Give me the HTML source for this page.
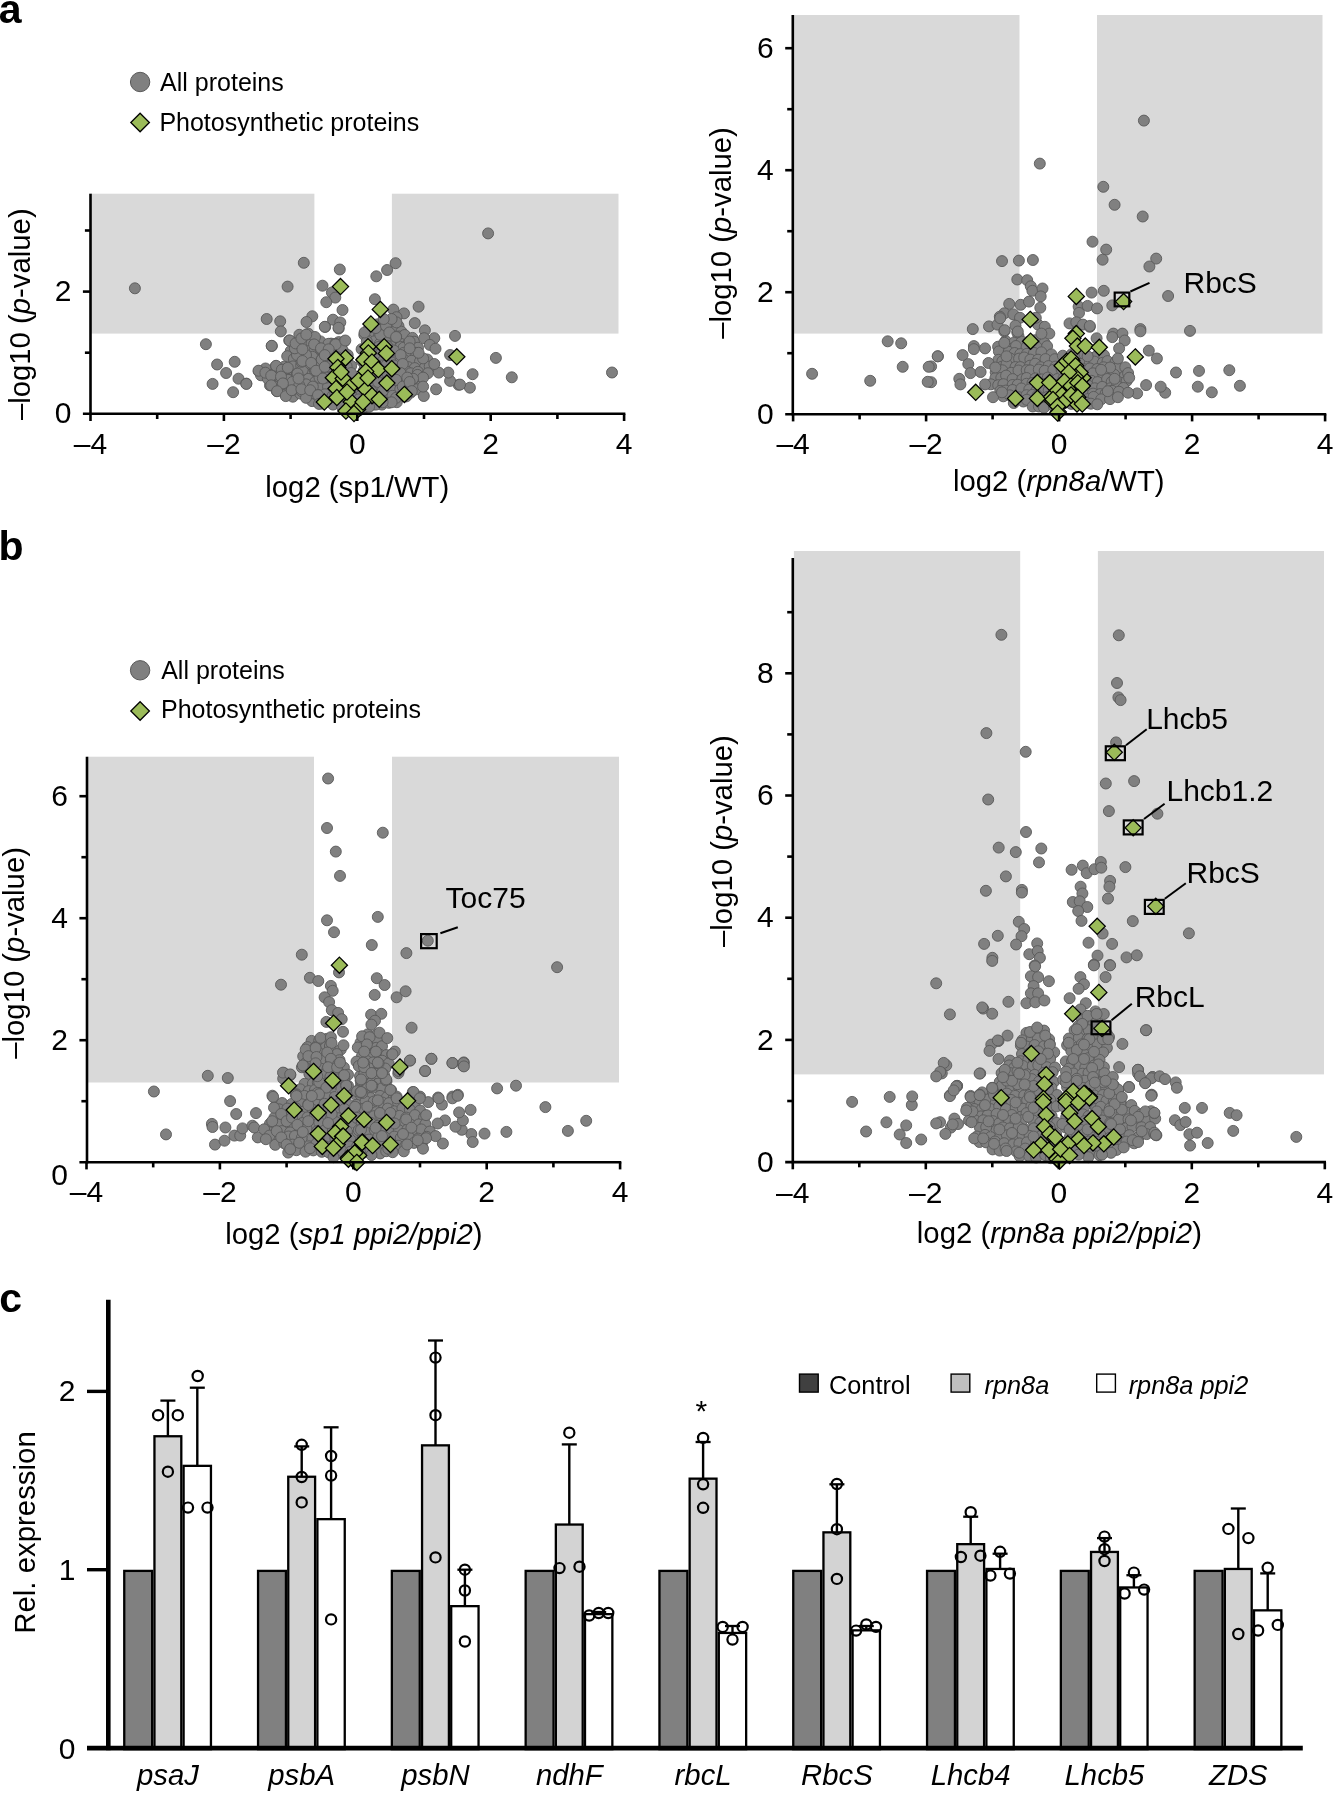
<!DOCTYPE html>
<html><head><meta charset="utf-8"><title>Figure</title>
<style>html,body{margin:0;padding:0;background:#fff;} body{width:1333px;height:1793px;overflow:hidden;font-family:"Liberation Sans", sans-serif;} svg{display:block;will-change:transform;}</style>
</head><body>
<svg width="1333" height="1793" viewBox="0 0 1333 1793" font-family='"Liberation Sans", sans-serif' fill="#000">
<rect width="1333" height="1793" fill="#fff"/>
<rect x="90.5" y="193.7" width="223.89999999999998" height="139.90000000000003" fill="#d9d9d9"/>
<rect x="391.9" y="193.7" width="226.60000000000002" height="139.90000000000003" fill="#d9d9d9"/>
<g fill="#808080" stroke="#595959" stroke-width="0.9">
<circle cx="295.5" cy="343.3" r="5.5"/>
<circle cx="303.2" cy="342.3" r="5.5"/>
<circle cx="311.6" cy="343.2" r="5.5"/>
<circle cx="320.4" cy="341.4" r="5.5"/>
<circle cx="331.1" cy="343.6" r="5.5"/>
<circle cx="338.8" cy="342.1" r="5.5"/>
<circle cx="290.7" cy="351.1" r="5.5"/>
<circle cx="301.5" cy="352.1" r="5.5"/>
<circle cx="308.5" cy="351.1" r="5.5"/>
<circle cx="315.1" cy="349.7" r="5.5"/>
<circle cx="326.7" cy="350.4" r="5.5"/>
<circle cx="332.7" cy="350.9" r="5.5"/>
<circle cx="343.3" cy="351.4" r="5.5"/>
<circle cx="287.2" cy="356.2" r="5.5"/>
<circle cx="293.9" cy="358.9" r="5.5"/>
<circle cx="306.2" cy="358.5" r="5.5"/>
<circle cx="312.3" cy="356.8" r="5.5"/>
<circle cx="321.3" cy="360.0" r="5.5"/>
<circle cx="330.8" cy="358.2" r="5.5"/>
<circle cx="339.7" cy="357.0" r="5.5"/>
<circle cx="346.8" cy="359.9" r="5.5"/>
<circle cx="284.1" cy="366.7" r="5.5"/>
<circle cx="293.0" cy="366.4" r="5.5"/>
<circle cx="301.2" cy="365.5" r="5.5"/>
<circle cx="308.7" cy="365.1" r="5.5"/>
<circle cx="315.2" cy="366.9" r="5.5"/>
<circle cx="325.8" cy="364.2" r="5.5"/>
<circle cx="334.0" cy="365.4" r="5.5"/>
<circle cx="341.9" cy="364.8" r="5.5"/>
<circle cx="351.2" cy="365.9" r="5.5"/>
<circle cx="270.7" cy="372.6" r="5.5"/>
<circle cx="276.9" cy="371.7" r="5.5"/>
<circle cx="286.0" cy="373.1" r="5.5"/>
<circle cx="297.2" cy="374.0" r="5.5"/>
<circle cx="305.4" cy="374.1" r="5.5"/>
<circle cx="311.8" cy="374.2" r="5.5"/>
<circle cx="321.9" cy="371.1" r="5.5"/>
<circle cx="327.8" cy="370.9" r="5.5"/>
<circle cx="339.3" cy="371.8" r="5.5"/>
<circle cx="345.2" cy="373.3" r="5.5"/>
<circle cx="273.2" cy="379.3" r="5.5"/>
<circle cx="283.8" cy="380.0" r="5.5"/>
<circle cx="290.8" cy="380.1" r="5.5"/>
<circle cx="298.1" cy="379.7" r="5.5"/>
<circle cx="308.2" cy="378.9" r="5.5"/>
<circle cx="315.4" cy="381.8" r="5.5"/>
<circle cx="325.5" cy="379.0" r="5.5"/>
<circle cx="334.4" cy="381.4" r="5.5"/>
<circle cx="340.6" cy="378.2" r="5.5"/>
<circle cx="349.6" cy="381.0" r="5.5"/>
<circle cx="279.5" cy="387.7" r="5.5"/>
<circle cx="286.1" cy="389.4" r="5.5"/>
<circle cx="296.9" cy="387.6" r="5.5"/>
<circle cx="303.1" cy="388.1" r="5.5"/>
<circle cx="312.3" cy="387.8" r="5.5"/>
<circle cx="320.5" cy="388.1" r="5.5"/>
<circle cx="328.0" cy="386.7" r="5.5"/>
<circle cx="340.1" cy="389.0" r="5.5"/>
<circle cx="346.0" cy="389.0" r="5.5"/>
<circle cx="354.5" cy="389.3" r="5.5"/>
<circle cx="284.5" cy="393.0" r="5.5"/>
<circle cx="292.8" cy="396.7" r="5.5"/>
<circle cx="300.3" cy="393.6" r="5.5"/>
<circle cx="310.0" cy="396.8" r="5.5"/>
<circle cx="317.8" cy="394.9" r="5.5"/>
<circle cx="325.0" cy="394.3" r="5.5"/>
<circle cx="332.8" cy="395.6" r="5.5"/>
<circle cx="342.2" cy="393.7" r="5.5"/>
<circle cx="349.4" cy="395.6" r="5.5"/>
<circle cx="312.1" cy="401.1" r="5.5"/>
<circle cx="321.9" cy="403.6" r="5.5"/>
<circle cx="331.5" cy="401.6" r="5.5"/>
<circle cx="339.8" cy="403.0" r="5.5"/>
<circle cx="346.7" cy="404.2" r="5.5"/>
<circle cx="377.6" cy="324.3" r="5.5"/>
<circle cx="383.4" cy="322.2" r="5.5"/>
<circle cx="390.8" cy="322.6" r="5.5"/>
<circle cx="398.5" cy="326.1" r="5.5"/>
<circle cx="368.8" cy="328.8" r="5.5"/>
<circle cx="375.0" cy="331.0" r="5.5"/>
<circle cx="380.8" cy="330.2" r="5.5"/>
<circle cx="388.0" cy="331.8" r="5.5"/>
<circle cx="395.0" cy="331.5" r="5.5"/>
<circle cx="401.4" cy="331.7" r="5.5"/>
<circle cx="364.3" cy="334.9" r="5.5"/>
<circle cx="372.1" cy="335.3" r="5.5"/>
<circle cx="379.1" cy="335.4" r="5.5"/>
<circle cx="386.3" cy="337.0" r="5.5"/>
<circle cx="391.5" cy="336.3" r="5.5"/>
<circle cx="399.1" cy="336.5" r="5.5"/>
<circle cx="404.7" cy="335.0" r="5.5"/>
<circle cx="412.5" cy="337.9" r="5.5"/>
<circle cx="368.0" cy="340.5" r="5.5"/>
<circle cx="374.6" cy="341.3" r="5.5"/>
<circle cx="379.9" cy="343.7" r="5.5"/>
<circle cx="386.4" cy="342.3" r="5.5"/>
<circle cx="396.4" cy="341.2" r="5.5"/>
<circle cx="400.8" cy="343.8" r="5.5"/>
<circle cx="408.7" cy="343.1" r="5.5"/>
<circle cx="414.1" cy="341.7" r="5.5"/>
<circle cx="361.6" cy="349.2" r="5.5"/>
<circle cx="368.6" cy="347.3" r="5.5"/>
<circle cx="378.8" cy="346.9" r="5.5"/>
<circle cx="383.2" cy="349.1" r="5.5"/>
<circle cx="391.0" cy="346.5" r="5.5"/>
<circle cx="400.5" cy="346.9" r="5.5"/>
<circle cx="403.6" cy="347.7" r="5.5"/>
<circle cx="413.0" cy="349.3" r="5.5"/>
<circle cx="418.0" cy="347.7" r="5.5"/>
<circle cx="368.6" cy="355.4" r="5.5"/>
<circle cx="375.4" cy="355.2" r="5.5"/>
<circle cx="380.9" cy="353.3" r="5.5"/>
<circle cx="388.6" cy="353.6" r="5.5"/>
<circle cx="393.4" cy="354.2" r="5.5"/>
<circle cx="403.5" cy="352.9" r="5.5"/>
<circle cx="409.3" cy="353.9" r="5.5"/>
<circle cx="416.1" cy="352.9" r="5.5"/>
<circle cx="361.6" cy="360.7" r="5.5"/>
<circle cx="369.1" cy="358.7" r="5.5"/>
<circle cx="375.6" cy="359.1" r="5.5"/>
<circle cx="382.9" cy="361.0" r="5.5"/>
<circle cx="391.5" cy="362.4" r="5.5"/>
<circle cx="400.2" cy="362.4" r="5.5"/>
<circle cx="404.4" cy="360.2" r="5.5"/>
<circle cx="411.5" cy="360.8" r="5.5"/>
<circle cx="420.0" cy="361.6" r="5.5"/>
<circle cx="427.3" cy="359.5" r="5.5"/>
<circle cx="365.0" cy="364.6" r="5.5"/>
<circle cx="373.6" cy="364.9" r="5.5"/>
<circle cx="381.9" cy="365.5" r="5.5"/>
<circle cx="386.4" cy="365.2" r="5.5"/>
<circle cx="393.9" cy="365.4" r="5.5"/>
<circle cx="402.1" cy="366.4" r="5.5"/>
<circle cx="408.2" cy="367.1" r="5.5"/>
<circle cx="414.8" cy="368.1" r="5.5"/>
<circle cx="424.9" cy="367.4" r="5.5"/>
<circle cx="429.7" cy="366.5" r="5.5"/>
<circle cx="363.8" cy="370.8" r="5.5"/>
<circle cx="370.2" cy="372.7" r="5.5"/>
<circle cx="376.2" cy="370.9" r="5.5"/>
<circle cx="385.7" cy="372.0" r="5.5"/>
<circle cx="391.6" cy="374.2" r="5.5"/>
<circle cx="398.9" cy="371.7" r="5.5"/>
<circle cx="407.4" cy="372.0" r="5.5"/>
<circle cx="410.6" cy="373.3" r="5.5"/>
<circle cx="417.9" cy="371.8" r="5.5"/>
<circle cx="427.9" cy="373.2" r="5.5"/>
<circle cx="366.6" cy="378.6" r="5.5"/>
<circle cx="372.8" cy="379.0" r="5.5"/>
<circle cx="379.3" cy="377.8" r="5.5"/>
<circle cx="387.5" cy="380.4" r="5.5"/>
<circle cx="393.3" cy="379.6" r="5.5"/>
<circle cx="400.8" cy="378.9" r="5.5"/>
<circle cx="408.6" cy="378.5" r="5.5"/>
<circle cx="417.0" cy="378.2" r="5.5"/>
<circle cx="421.5" cy="377.1" r="5.5"/>
<circle cx="364.1" cy="386.5" r="5.5"/>
<circle cx="371.3" cy="382.8" r="5.5"/>
<circle cx="378.1" cy="385.8" r="5.5"/>
<circle cx="385.4" cy="384.7" r="5.5"/>
<circle cx="390.9" cy="384.5" r="5.5"/>
<circle cx="399.7" cy="383.8" r="5.5"/>
<circle cx="405.6" cy="384.6" r="5.5"/>
<circle cx="414.3" cy="385.9" r="5.5"/>
<circle cx="421.2" cy="386.0" r="5.5"/>
<circle cx="366.7" cy="391.5" r="5.5"/>
<circle cx="375.7" cy="391.1" r="5.5"/>
<circle cx="382.3" cy="389.1" r="5.5"/>
<circle cx="387.4" cy="392.7" r="5.5"/>
<circle cx="393.6" cy="390.4" r="5.5"/>
<circle cx="400.3" cy="389.1" r="5.5"/>
<circle cx="410.6" cy="392.7" r="5.5"/>
<circle cx="416.6" cy="389.3" r="5.5"/>
<circle cx="363.3" cy="396.9" r="5.5"/>
<circle cx="368.9" cy="397.0" r="5.5"/>
<circle cx="379.3" cy="397.8" r="5.5"/>
<circle cx="382.9" cy="396.9" r="5.5"/>
<circle cx="392.4" cy="395.8" r="5.5"/>
<circle cx="400.1" cy="396.6" r="5.5"/>
<circle cx="406.3" cy="396.4" r="5.5"/>
<circle cx="360.4" cy="404.4" r="5.5"/>
<circle cx="365.7" cy="402.9" r="5.5"/>
<circle cx="373.9" cy="402.5" r="5.5"/>
<circle cx="381.8" cy="404.6" r="5.5"/>
<circle cx="388.8" cy="402.8" r="5.5"/>
<circle cx="396.8" cy="402.2" r="5.5"/>
<circle cx="361.5" cy="408.8" r="5.5"/>
<circle cx="345.5" cy="380.4" r="5.5"/>
<circle cx="356.1" cy="381.3" r="5.5"/>
<circle cx="344.3" cy="385.1" r="5.5"/>
<circle cx="349.6" cy="383.8" r="5.5"/>
<circle cx="355.5" cy="386.7" r="5.5"/>
<circle cx="361.1" cy="386.2" r="5.5"/>
<circle cx="367.7" cy="383.5" r="5.5"/>
<circle cx="374.0" cy="385.6" r="5.5"/>
<circle cx="347.5" cy="390.3" r="5.5"/>
<circle cx="352.9" cy="391.9" r="5.5"/>
<circle cx="358.9" cy="392.1" r="5.5"/>
<circle cx="363.6" cy="391.6" r="5.5"/>
<circle cx="369.8" cy="392.1" r="5.5"/>
<circle cx="344.5" cy="394.0" r="5.5"/>
<circle cx="347.5" cy="394.5" r="5.5"/>
<circle cx="356.9" cy="395.3" r="5.5"/>
<circle cx="361.5" cy="394.8" r="5.5"/>
<circle cx="367.0" cy="395.1" r="5.5"/>
<circle cx="372.4" cy="395.9" r="5.5"/>
<circle cx="346.7" cy="402.5" r="5.5"/>
<circle cx="353.4" cy="402.7" r="5.5"/>
<circle cx="358.7" cy="399.4" r="5.5"/>
<circle cx="365.4" cy="402.6" r="5.5"/>
<circle cx="371.6" cy="401.1" r="5.5"/>
<circle cx="343.9" cy="404.8" r="5.5"/>
<circle cx="350.3" cy="406.3" r="5.5"/>
<circle cx="354.1" cy="404.2" r="5.5"/>
<circle cx="362.4" cy="407.9" r="5.5"/>
<circle cx="365.4" cy="407.2" r="5.5"/>
<circle cx="372.6" cy="404.6" r="5.5"/>
<circle cx="347.5" cy="409.4" r="5.5"/>
<circle cx="352.5" cy="409.4" r="5.5"/>
<circle cx="358.9" cy="410.5" r="5.5"/>
<circle cx="303.8" cy="262.8" r="5.5"/>
<circle cx="339.8" cy="269.5" r="5.5"/>
<circle cx="395.6" cy="263.2" r="5.5"/>
<circle cx="387.1" cy="270.0" r="5.5"/>
<circle cx="376.3" cy="276.3" r="5.5"/>
<circle cx="287.6" cy="286.6" r="5.5"/>
<circle cx="322.5" cy="285.7" r="5.5"/>
<circle cx="331.9" cy="292.5" r="5.5"/>
<circle cx="335.3" cy="297.6" r="5.5"/>
<circle cx="326.3" cy="302.2" r="5.5"/>
<circle cx="342.5" cy="310.0" r="5.5"/>
<circle cx="374.9" cy="299.2" r="5.5"/>
<circle cx="266.7" cy="319.0" r="5.5"/>
<circle cx="280.2" cy="321.3" r="5.5"/>
<circle cx="280.8" cy="331.4" r="5.5"/>
<circle cx="312.3" cy="316.3" r="5.5"/>
<circle cx="306.5" cy="322.0" r="5.5"/>
<circle cx="333.0" cy="319.7" r="5.5"/>
<circle cx="340.3" cy="322.4" r="5.5"/>
<circle cx="325.2" cy="326.9" r="5.5"/>
<circle cx="338.7" cy="328.5" r="5.5"/>
<circle cx="418.6" cy="306.7" r="5.5"/>
<circle cx="404.0" cy="313.4" r="5.5"/>
<circle cx="393.4" cy="309.6" r="5.5"/>
<circle cx="396.5" cy="317.2" r="5.5"/>
<circle cx="396.5" cy="322.4" r="5.5"/>
<circle cx="414.8" cy="323.1" r="5.5"/>
<circle cx="424.9" cy="330.3" r="5.5"/>
<circle cx="434.3" cy="338.2" r="5.5"/>
<circle cx="424.2" cy="338.2" r="5.5"/>
<circle cx="455.0" cy="335.9" r="5.5"/>
<circle cx="429.8" cy="344.9" r="5.5"/>
<circle cx="435.5" cy="348.7" r="5.5"/>
<circle cx="205.9" cy="344.2" r="5.5"/>
<circle cx="271.8" cy="346.0" r="5.5"/>
<circle cx="217.1" cy="364.5" r="5.5"/>
<circle cx="234.7" cy="361.8" r="5.5"/>
<circle cx="226.1" cy="373.0" r="5.5"/>
<circle cx="238.5" cy="378.7" r="5.5"/>
<circle cx="246.4" cy="383.6" r="5.5"/>
<circle cx="212.6" cy="383.9" r="5.5"/>
<circle cx="233.1" cy="392.2" r="5.5"/>
<circle cx="258.8" cy="371.3" r="5.5"/>
<circle cx="472.6" cy="374.2" r="5.5"/>
<circle cx="469.9" cy="387.7" r="5.5"/>
<circle cx="458.6" cy="384.8" r="5.5"/>
<circle cx="450.1" cy="380.9" r="5.5"/>
<circle cx="448.3" cy="372.6" r="5.5"/>
<circle cx="438.8" cy="372.6" r="5.5"/>
<circle cx="434.3" cy="364.0" r="5.5"/>
<circle cx="423.1" cy="358.4" r="5.5"/>
<circle cx="418.6" cy="352.8" r="5.5"/>
<circle cx="409.6" cy="341.5" r="5.5"/>
<circle cx="409.6" cy="348.3" r="5.5"/>
<circle cx="396.1" cy="336.6" r="5.5"/>
<circle cx="436.1" cy="389.3" r="5.5"/>
<circle cx="423.8" cy="396.0" r="5.5"/>
<circle cx="450.1" cy="355.0" r="5.5"/>
<circle cx="417.5" cy="374.9" r="5.5"/>
<circle cx="423.1" cy="377.6" r="5.5"/>
<circle cx="413.0" cy="378.7" r="5.5"/>
<circle cx="423.1" cy="386.6" r="5.5"/>
<circle cx="289.2" cy="340.4" r="5.5"/>
<circle cx="294.8" cy="343.8" r="5.5"/>
<circle cx="301.5" cy="350.5" r="5.5"/>
<circle cx="299.3" cy="334.8" r="5.5"/>
<circle cx="308.3" cy="333.7" r="5.5"/>
<circle cx="314.6" cy="344.2" r="5.5"/>
<circle cx="320.7" cy="349.4" r="5.5"/>
<circle cx="324.0" cy="355.0" r="5.5"/>
<circle cx="315.0" cy="337.0" r="5.5"/>
<circle cx="328.5" cy="343.8" r="5.5"/>
<circle cx="335.3" cy="343.8" r="5.5"/>
<circle cx="344.3" cy="341.5" r="5.5"/>
<circle cx="342.0" cy="349.4" r="5.5"/>
<circle cx="347.7" cy="355.0" r="5.5"/>
<circle cx="275.7" cy="366.3" r="5.5"/>
<circle cx="281.3" cy="369.7" r="5.5"/>
<circle cx="286.9" cy="368.5" r="5.5"/>
<circle cx="272.3" cy="375.3" r="5.5"/>
<circle cx="280.2" cy="377.6" r="5.5"/>
<circle cx="270.0" cy="385.4" r="5.5"/>
<circle cx="276.8" cy="391.1" r="5.5"/>
<circle cx="283.5" cy="384.3" r="5.5"/>
<circle cx="285.8" cy="394.4" r="5.5"/>
<circle cx="292.5" cy="389.9" r="5.5"/>
<circle cx="301.5" cy="391.1" r="5.5"/>
<circle cx="306.0" cy="384.3" r="5.5"/>
<circle cx="297.0" cy="374.2" r="5.5"/>
<circle cx="302.7" cy="369.7" r="5.5"/>
<circle cx="301.5" cy="361.8" r="5.5"/>
<circle cx="310.5" cy="364.0" r="5.5"/>
<circle cx="315.0" cy="370.8" r="5.5"/>
<circle cx="319.5" cy="377.6" r="5.5"/>
<circle cx="312.8" cy="386.6" r="5.5"/>
<circle cx="317.3" cy="395.6" r="5.5"/>
<circle cx="324.0" cy="400.0" r="5.5"/>
<circle cx="326.3" cy="377.6" r="5.5"/>
<circle cx="328.5" cy="366.3" r="5.5"/>
<circle cx="337.6" cy="364.0" r="5.5"/>
<circle cx="346.6" cy="366.3" r="5.5"/>
<circle cx="351.1" cy="373.0" r="5.5"/>
<circle cx="321.8" cy="359.5" r="5.5"/>
<circle cx="333.0" cy="355.0" r="5.5"/>
<circle cx="337.6" cy="357.3" r="5.5"/>
<circle cx="306.0" cy="355.0" r="5.5"/>
<circle cx="297.0" cy="355.0" r="5.5"/>
<circle cx="294.8" cy="348.3" r="5.5"/>
<circle cx="265.5" cy="368.5" r="5.5"/>
<circle cx="261.0" cy="375.3" r="5.5"/>
<circle cx="267.8" cy="378.7" r="5.5"/>
<circle cx="274.5" cy="386.6" r="5.5"/>
<circle cx="288.0" cy="379.8" r="5.5"/>
<circle cx="292.5" cy="382.0" r="5.5"/>
<circle cx="299.3" cy="385.4" r="5.5"/>
<circle cx="311.7" cy="393.3" r="5.5"/>
<circle cx="306.0" cy="397.8" r="5.5"/>
<circle cx="335.3" cy="393.3" r="5.5"/>
<circle cx="337.6" cy="400.0" r="5.5"/>
<circle cx="333.0" cy="404.6" r="5.5"/>
<circle cx="342.0" cy="406.8" r="5.5"/>
<circle cx="380.3" cy="334.8" r="5.5"/>
<circle cx="375.8" cy="328.0" r="5.5"/>
<circle cx="386.0" cy="325.8" r="5.5"/>
<circle cx="389.3" cy="332.5" r="5.5"/>
<circle cx="391.6" cy="319.0" r="5.5"/>
<circle cx="383.7" cy="319.0" r="5.5"/>
<circle cx="396.1" cy="337.0" r="5.5"/>
<circle cx="387.1" cy="346.0" r="5.5"/>
<circle cx="393.8" cy="350.5" r="5.5"/>
<circle cx="400.6" cy="355.0" r="5.5"/>
<circle cx="402.8" cy="364.0" r="5.5"/>
<circle cx="400.6" cy="373.0" r="5.5"/>
<circle cx="396.1" cy="379.8" r="5.5"/>
<circle cx="402.8" cy="386.6" r="5.5"/>
<circle cx="405.1" cy="393.3" r="5.5"/>
<circle cx="396.1" cy="397.8" r="5.5"/>
<circle cx="391.6" cy="402.3" r="5.5"/>
<circle cx="382.6" cy="402.3" r="5.5"/>
<circle cx="375.8" cy="404.6" r="5.5"/>
<circle cx="369.1" cy="406.8" r="5.5"/>
<circle cx="366.8" cy="341.5" r="5.5"/>
<circle cx="364.6" cy="332.5" r="5.5"/>
<circle cx="366.8" cy="355.0" r="5.5"/>
<circle cx="364.6" cy="364.0" r="5.5"/>
<circle cx="371.3" cy="377.6" r="5.5"/>
<circle cx="378.1" cy="382.0" r="5.5"/>
<circle cx="371.3" cy="391.1" r="5.5"/>
<circle cx="382.6" cy="391.1" r="5.5"/>
<circle cx="387.1" cy="373.0" r="5.5"/>
<circle cx="407.3" cy="377.6" r="5.5"/>
<circle cx="409.6" cy="382.0" r="5.5"/>
<circle cx="411.8" cy="391.1" r="5.5"/>
<circle cx="289.7" cy="340.5" r="5.5"/>
<circle cx="295.6" cy="343.4" r="5.5"/>
<circle cx="301.4" cy="338.5" r="5.5"/>
<circle cx="302.4" cy="349.3" r="5.5"/>
<circle cx="306.3" cy="334.6" r="5.5"/>
<circle cx="314.1" cy="344.4" r="5.5"/>
<circle cx="321.0" cy="348.3" r="5.5"/>
<circle cx="324.8" cy="326.8" r="5.5"/>
<circle cx="338.5" cy="327.8" r="5.5"/>
<circle cx="335.6" cy="344.4" r="5.5"/>
<circle cx="328.7" cy="349.3" r="5.5"/>
<circle cx="345.3" cy="340.5" r="5.5"/>
<circle cx="324.8" cy="355.1" r="5.5"/>
<circle cx="302.4" cy="361.0" r="5.5"/>
<circle cx="311.2" cy="362.9" r="5.5"/>
<circle cx="316.1" cy="370.7" r="5.5"/>
<circle cx="297.5" cy="373.6" r="5.5"/>
<circle cx="324.8" cy="366.8" r="5.5"/>
<circle cx="322.9" cy="378.5" r="5.5"/>
<circle cx="258.5" cy="370.7" r="5.5"/>
<circle cx="265.4" cy="372.7" r="5.5"/>
<circle cx="276.1" cy="365.8" r="5.5"/>
<circle cx="281.9" cy="369.7" r="5.5"/>
<circle cx="287.8" cy="367.8" r="5.5"/>
<circle cx="271.2" cy="375.6" r="5.5"/>
<circle cx="281.0" cy="376.6" r="5.5"/>
<circle cx="271.2" cy="385.3" r="5.5"/>
<circle cx="282.9" cy="383.4" r="5.5"/>
<circle cx="277.1" cy="391.2" r="5.5"/>
<circle cx="285.8" cy="396.1" r="5.5"/>
<circle cx="291.7" cy="390.2" r="5.5"/>
<circle cx="301.4" cy="389.2" r="5.5"/>
<circle cx="310.2" cy="390.2" r="5.5"/>
<circle cx="318.0" cy="395.1" r="5.5"/>
<circle cx="319.0" cy="403.9" r="5.5"/>
<circle cx="298.5" cy="378.5" r="5.5"/>
<circle cx="271.7" cy="345.8" r="5.5"/>
<circle cx="246.3" cy="383.9" r="5.5"/>
<circle cx="488.1" cy="233.4" r="5.5"/>
<circle cx="495.9" cy="357.9" r="5.5"/>
<circle cx="511.8" cy="377.3" r="5.5"/>
<circle cx="612.0" cy="372.5" r="5.5"/>
<circle cx="460.0" cy="384.6" r="5.5"/>
<circle cx="134.9" cy="288.3" r="5.5"/>
</g>
<g fill="#9bbb59" stroke="#000" stroke-width="1.25">
<path d="M340.5 278.5L348.6 286.6L340.5 294.70000000000005L332.4 286.6Z"/>
<path d="M380.3 301.29999999999995L388.40000000000003 309.4L380.3 317.5L372.2 309.4Z"/>
<path d="M370.9 315.9L379.0 324.0L370.9 332.1L362.79999999999995 324.0Z"/>
<path d="M456.8 348.7L464.90000000000003 356.8L456.8 364.90000000000003L448.7 356.8Z"/>
<path d="M368.0 338.59999999999997L376.1 346.7L368.0 354.8L359.9 346.7Z"/>
<path d="M384.2 338.59999999999997L392.3 346.7L384.2 354.8L376.09999999999997 346.7Z"/>
<path d="M386.4 345.29999999999995L394.5 353.4L386.4 361.5L378.29999999999995 353.4Z"/>
<path d="M368.4 344.9L376.5 353.0L368.4 361.1L360.29999999999995 353.0Z"/>
<path d="M363.9 351.59999999999997L372.0 359.7L363.9 367.8L355.79999999999995 359.7Z"/>
<path d="M372.0 353.9L380.1 362.0L372.0 370.1L363.9 362.0Z"/>
<path d="M378.3 361.5L386.40000000000003 369.6L378.3 377.70000000000005L370.2 369.6Z"/>
<path d="M391.8 360.59999999999997L399.90000000000003 368.7L391.8 376.8L383.7 368.7Z"/>
<path d="M365.7 363.29999999999995L373.8 371.4L365.7 379.5L357.59999999999997 371.4Z"/>
<path d="M345.5 349.79999999999995L353.6 357.9L345.5 366.0L337.4 357.9Z"/>
<path d="M336.0 350.7L344.1 358.8L336.0 366.90000000000003L327.9 358.8Z"/>
<path d="M337.8 359.29999999999995L345.90000000000003 367.4L337.8 375.5L329.7 367.4Z"/>
<path d="M333.3 369.59999999999997L341.40000000000003 377.7L333.3 385.8L325.2 377.7Z"/>
<path d="M343.2 370.5L351.3 378.6L343.2 386.70000000000005L335.09999999999997 378.6Z"/>
<path d="M350.4 378.59999999999997L358.5 386.7L350.4 394.8L342.29999999999995 386.7Z"/>
<path d="M336.0 380.4L344.1 388.5L336.0 396.6L327.9 388.5Z"/>
<path d="M336.9 389.4L345.0 397.5L336.9 405.6L328.79999999999995 397.5Z"/>
<path d="M324.3 393.9L332.40000000000003 402.0L324.3 410.1L316.2 402.0Z"/>
<path d="M364.8 380.4L372.90000000000003 388.5L364.8 396.6L356.7 388.5Z"/>
<path d="M372.0 387.59999999999997L380.1 395.7L372.0 403.8L363.9 395.7Z"/>
<path d="M379.2 391.2L387.3 399.3L379.2 407.40000000000003L371.09999999999997 399.3Z"/>
<path d="M386.9 375.0L395.0 383.1L386.9 391.20000000000005L378.79999999999995 383.1Z"/>
<path d="M404.4 386.29999999999995L412.5 394.4L404.4 402.5L396.29999999999995 394.4Z"/>
<path d="M351.3 393.9L359.40000000000003 402.0L351.3 410.1L343.2 402.0Z"/>
<path d="M357.6 401.09999999999997L365.70000000000005 409.2L357.6 417.3L349.5 409.2Z"/>
<path d="M345.9 402.9L354.0 411.0L345.9 419.1L337.79999999999995 411.0Z"/>
<path d="M358.5 372.29999999999995L366.6 380.4L358.5 388.5L350.4 380.4Z"/>
<path d="M363.0 393.9L371.1 402.0L363.0 410.1L354.9 402.0Z"/>
<path d="M354.0 405.4L362.1 413.5L354.0 421.6L345.9 413.5Z"/>
<path d="M341.0 363.9L349.1 372.0L341.0 380.1L332.9 372.0Z"/>
<path d="M347.0 383.9L355.1 392.0L347.0 400.1L338.9 392.0Z"/>
<path d="M368.0 369.9L376.1 378.0L368.0 386.1L359.9 378.0Z"/>
</g>
<g stroke="#000" stroke-width="2.6" fill="none">
<line x1="90.5" y1="193.7" x2="90.5" y2="415.0"/>
<line x1="82.9" y1="413.8" x2="625.34" y2="413.8"/>
<line x1="90.5" y1="413.8" x2="90.5" y2="421.0"/>
<line x1="157.2" y1="413.8" x2="157.2" y2="419.0"/>
<line x1="223.9" y1="413.8" x2="223.9" y2="421.0"/>
<line x1="290.6" y1="413.8" x2="290.6" y2="419.0"/>
<line x1="357.3" y1="413.8" x2="357.3" y2="421.0"/>
<line x1="424.0" y1="413.8" x2="424.0" y2="419.0"/>
<line x1="490.7" y1="413.8" x2="490.7" y2="421.0"/>
<line x1="557.4" y1="413.8" x2="557.4" y2="419.0"/>
<line x1="624.1" y1="413.8" x2="624.1" y2="421.0"/>
<line x1="84.9" y1="352.7" x2="90.5" y2="352.7"/>
<line x1="82.9" y1="291.6" x2="90.5" y2="291.6"/>
<line x1="84.9" y1="230.5" x2="90.5" y2="230.5"/>
</g>
<text x="90.5" y="454.3" font-size="30" text-anchor="middle" font-weight="normal" font-style="normal" >–4</text>
<text x="223.9" y="454.3" font-size="30" text-anchor="middle" font-weight="normal" font-style="normal" >–2</text>
<text x="357.3" y="454.3" font-size="30" text-anchor="middle" font-weight="normal" font-style="normal" >0</text>
<text x="490.7" y="454.3" font-size="30" text-anchor="middle" font-weight="normal" font-style="normal" >2</text>
<text x="624.1" y="454.3" font-size="30" text-anchor="middle" font-weight="normal" font-style="normal" >4</text>
<text x="71.5" y="423.4" font-size="30" text-anchor="end" font-weight="normal" font-style="normal" >0</text>
<text x="71.5" y="301.2" font-size="30" text-anchor="end" font-weight="normal" font-style="normal" >2</text>
<text x="357.3" y="496.7" font-size="29.3" text-anchor="middle">log2 (sp1/WT)</text>
<text transform="translate(30.1,314.2) rotate(-90)" font-size="29.3" text-anchor="middle">–log10 (<tspan font-style="italic">p</tspan>-value)</text>
<rect x="793.5" y="15" width="226.0" height="318.6" fill="#d9d9d9"/>
<rect x="1097" y="15" width="225.5" height="318.6" fill="#d9d9d9"/>
<g fill="#808080" stroke="#595959" stroke-width="0.9">
<circle cx="1018.5" cy="336.2" r="5.5"/>
<circle cx="1005.6" cy="340.9" r="5.5"/>
<circle cx="1014.3" cy="342.4" r="5.5"/>
<circle cx="1021.6" cy="341.6" r="5.5"/>
<circle cx="1028.5" cy="341.7" r="5.5"/>
<circle cx="1035.3" cy="340.2" r="5.5"/>
<circle cx="1044.5" cy="343.0" r="5.5"/>
<circle cx="998.1" cy="346.7" r="5.5"/>
<circle cx="1005.4" cy="346.7" r="5.5"/>
<circle cx="1012.8" cy="348.5" r="5.5"/>
<circle cx="1016.0" cy="346.0" r="5.5"/>
<circle cx="1026.6" cy="347.0" r="5.5"/>
<circle cx="1033.9" cy="346.7" r="5.5"/>
<circle cx="1037.3" cy="347.6" r="5.5"/>
<circle cx="1047.1" cy="346.2" r="5.5"/>
<circle cx="998.9" cy="351.4" r="5.5"/>
<circle cx="1008.7" cy="351.9" r="5.5"/>
<circle cx="1014.7" cy="353.0" r="5.5"/>
<circle cx="1020.3" cy="354.1" r="5.5"/>
<circle cx="1027.0" cy="353.8" r="5.5"/>
<circle cx="1034.0" cy="352.9" r="5.5"/>
<circle cx="1041.4" cy="352.3" r="5.5"/>
<circle cx="1051.4" cy="354.4" r="5.5"/>
<circle cx="998.4" cy="359.8" r="5.5"/>
<circle cx="1002.4" cy="361.2" r="5.5"/>
<circle cx="1009.9" cy="358.3" r="5.5"/>
<circle cx="1019.1" cy="358.6" r="5.5"/>
<circle cx="1024.2" cy="357.5" r="5.5"/>
<circle cx="1030.4" cy="359.6" r="5.5"/>
<circle cx="1038.0" cy="359.7" r="5.5"/>
<circle cx="1045.5" cy="359.1" r="5.5"/>
<circle cx="1054.8" cy="359.2" r="5.5"/>
<circle cx="1002.1" cy="366.6" r="5.5"/>
<circle cx="1006.5" cy="364.1" r="5.5"/>
<circle cx="1015.5" cy="367.1" r="5.5"/>
<circle cx="1020.3" cy="367.1" r="5.5"/>
<circle cx="1030.0" cy="365.7" r="5.5"/>
<circle cx="1035.2" cy="363.7" r="5.5"/>
<circle cx="1040.7" cy="367.2" r="5.5"/>
<circle cx="1048.5" cy="366.1" r="5.5"/>
<circle cx="1055.5" cy="366.6" r="5.5"/>
<circle cx="995.7" cy="372.3" r="5.5"/>
<circle cx="1002.3" cy="370.3" r="5.5"/>
<circle cx="1011.2" cy="372.8" r="5.5"/>
<circle cx="1018.5" cy="370.5" r="5.5"/>
<circle cx="1026.7" cy="370.2" r="5.5"/>
<circle cx="1030.1" cy="370.4" r="5.5"/>
<circle cx="1038.8" cy="369.6" r="5.5"/>
<circle cx="1044.7" cy="370.8" r="5.5"/>
<circle cx="1053.3" cy="369.9" r="5.5"/>
<circle cx="995.4" cy="378.1" r="5.5"/>
<circle cx="1001.3" cy="377.8" r="5.5"/>
<circle cx="1006.1" cy="375.6" r="5.5"/>
<circle cx="1012.6" cy="379.1" r="5.5"/>
<circle cx="1022.3" cy="379.3" r="5.5"/>
<circle cx="1026.6" cy="378.0" r="5.5"/>
<circle cx="1035.4" cy="378.4" r="5.5"/>
<circle cx="1041.8" cy="379.4" r="5.5"/>
<circle cx="1047.8" cy="377.6" r="5.5"/>
<circle cx="1057.4" cy="379.0" r="5.5"/>
<circle cx="990.9" cy="384.3" r="5.5"/>
<circle cx="998.2" cy="385.2" r="5.5"/>
<circle cx="1003.4" cy="384.2" r="5.5"/>
<circle cx="1012.6" cy="385.0" r="5.5"/>
<circle cx="1017.7" cy="384.7" r="5.5"/>
<circle cx="1026.5" cy="383.8" r="5.5"/>
<circle cx="1032.5" cy="383.0" r="5.5"/>
<circle cx="1039.3" cy="383.9" r="5.5"/>
<circle cx="1044.3" cy="384.1" r="5.5"/>
<circle cx="1055.0" cy="385.0" r="5.5"/>
<circle cx="1000.3" cy="390.9" r="5.5"/>
<circle cx="1005.8" cy="390.6" r="5.5"/>
<circle cx="1012.6" cy="390.0" r="5.5"/>
<circle cx="1021.4" cy="388.5" r="5.5"/>
<circle cx="1029.3" cy="389.5" r="5.5"/>
<circle cx="1036.0" cy="391.2" r="5.5"/>
<circle cx="1041.5" cy="387.6" r="5.5"/>
<circle cx="1048.7" cy="390.3" r="5.5"/>
<circle cx="1055.3" cy="388.2" r="5.5"/>
<circle cx="1003.3" cy="396.3" r="5.5"/>
<circle cx="1009.8" cy="395.3" r="5.5"/>
<circle cx="1019.2" cy="397.3" r="5.5"/>
<circle cx="1026.5" cy="395.2" r="5.5"/>
<circle cx="1032.3" cy="394.9" r="5.5"/>
<circle cx="1037.5" cy="395.6" r="5.5"/>
<circle cx="1047.3" cy="397.0" r="5.5"/>
<circle cx="1053.8" cy="397.4" r="5.5"/>
<circle cx="1059.1" cy="394.3" r="5.5"/>
<circle cx="1013.8" cy="403.0" r="5.5"/>
<circle cx="1023.4" cy="401.5" r="5.5"/>
<circle cx="1026.8" cy="399.8" r="5.5"/>
<circle cx="1037.0" cy="399.8" r="5.5"/>
<circle cx="1043.3" cy="402.0" r="5.5"/>
<circle cx="1048.7" cy="402.8" r="5.5"/>
<circle cx="1054.6" cy="400.2" r="5.5"/>
<circle cx="1032.7" cy="406.5" r="5.5"/>
<circle cx="1038.9" cy="406.5" r="5.5"/>
<circle cx="1044.0" cy="407.6" r="5.5"/>
<circle cx="1053.9" cy="406.5" r="5.5"/>
<circle cx="1080.1" cy="351.2" r="5.5"/>
<circle cx="1062.8" cy="355.7" r="5.5"/>
<circle cx="1071.9" cy="354.1" r="5.5"/>
<circle cx="1075.7" cy="357.7" r="5.5"/>
<circle cx="1084.5" cy="354.4" r="5.5"/>
<circle cx="1093.4" cy="357.8" r="5.5"/>
<circle cx="1097.0" cy="355.8" r="5.5"/>
<circle cx="1104.0" cy="355.3" r="5.5"/>
<circle cx="1067.4" cy="362.0" r="5.5"/>
<circle cx="1073.5" cy="360.2" r="5.5"/>
<circle cx="1081.9" cy="364.0" r="5.5"/>
<circle cx="1089.9" cy="362.8" r="5.5"/>
<circle cx="1094.4" cy="361.6" r="5.5"/>
<circle cx="1102.8" cy="362.8" r="5.5"/>
<circle cx="1107.5" cy="361.1" r="5.5"/>
<circle cx="1115.5" cy="362.2" r="5.5"/>
<circle cx="1061.6" cy="369.5" r="5.5"/>
<circle cx="1070.2" cy="368.3" r="5.5"/>
<circle cx="1076.4" cy="367.9" r="5.5"/>
<circle cx="1084.1" cy="369.3" r="5.5"/>
<circle cx="1089.9" cy="368.4" r="5.5"/>
<circle cx="1097.2" cy="369.0" r="5.5"/>
<circle cx="1103.6" cy="367.3" r="5.5"/>
<circle cx="1111.9" cy="368.7" r="5.5"/>
<circle cx="1117.7" cy="368.0" r="5.5"/>
<circle cx="1125.3" cy="367.3" r="5.5"/>
<circle cx="1066.9" cy="376.1" r="5.5"/>
<circle cx="1072.7" cy="375.9" r="5.5"/>
<circle cx="1080.5" cy="373.0" r="5.5"/>
<circle cx="1089.0" cy="375.9" r="5.5"/>
<circle cx="1093.0" cy="373.3" r="5.5"/>
<circle cx="1103.1" cy="373.6" r="5.5"/>
<circle cx="1108.0" cy="372.3" r="5.5"/>
<circle cx="1114.2" cy="374.7" r="5.5"/>
<circle cx="1124.9" cy="376.2" r="5.5"/>
<circle cx="1063.5" cy="378.4" r="5.5"/>
<circle cx="1069.8" cy="381.5" r="5.5"/>
<circle cx="1078.8" cy="380.9" r="5.5"/>
<circle cx="1083.4" cy="380.4" r="5.5"/>
<circle cx="1091.4" cy="380.8" r="5.5"/>
<circle cx="1097.6" cy="382.1" r="5.5"/>
<circle cx="1107.1" cy="379.0" r="5.5"/>
<circle cx="1111.7" cy="381.8" r="5.5"/>
<circle cx="1118.6" cy="382.1" r="5.5"/>
<circle cx="1126.6" cy="381.1" r="5.5"/>
<circle cx="1066.1" cy="385.4" r="5.5"/>
<circle cx="1074.7" cy="387.1" r="5.5"/>
<circle cx="1079.5" cy="387.9" r="5.5"/>
<circle cx="1087.7" cy="385.3" r="5.5"/>
<circle cx="1094.7" cy="388.3" r="5.5"/>
<circle cx="1102.2" cy="386.9" r="5.5"/>
<circle cx="1110.7" cy="388.2" r="5.5"/>
<circle cx="1117.0" cy="386.0" r="5.5"/>
<circle cx="1123.4" cy="388.0" r="5.5"/>
<circle cx="1064.7" cy="392.8" r="5.5"/>
<circle cx="1069.9" cy="391.9" r="5.5"/>
<circle cx="1078.4" cy="392.7" r="5.5"/>
<circle cx="1082.6" cy="393.3" r="5.5"/>
<circle cx="1093.1" cy="393.6" r="5.5"/>
<circle cx="1100.1" cy="394.1" r="5.5"/>
<circle cx="1105.6" cy="393.6" r="5.5"/>
<circle cx="1112.0" cy="390.8" r="5.5"/>
<circle cx="1118.9" cy="391.7" r="5.5"/>
<circle cx="1065.5" cy="398.6" r="5.5"/>
<circle cx="1074.8" cy="398.1" r="5.5"/>
<circle cx="1080.0" cy="398.1" r="5.5"/>
<circle cx="1087.3" cy="399.2" r="5.5"/>
<circle cx="1093.6" cy="396.9" r="5.5"/>
<circle cx="1101.2" cy="399.3" r="5.5"/>
<circle cx="1110.0" cy="399.1" r="5.5"/>
<circle cx="1063.3" cy="403.3" r="5.5"/>
<circle cx="1071.2" cy="403.9" r="5.5"/>
<circle cx="1076.5" cy="403.9" r="5.5"/>
<circle cx="1086.3" cy="402.6" r="5.5"/>
<circle cx="1090.9" cy="403.7" r="5.5"/>
<circle cx="1097.3" cy="404.3" r="5.5"/>
<circle cx="1039.8" cy="163.6" r="5.5"/>
<circle cx="1103.3" cy="186.8" r="5.5"/>
<circle cx="1114.6" cy="204.8" r="5.5"/>
<circle cx="1142.7" cy="216.5" r="5.5"/>
<circle cx="1092.5" cy="241.7" r="5.5"/>
<circle cx="1106.2" cy="249.6" r="5.5"/>
<circle cx="1102.6" cy="259.7" r="5.5"/>
<circle cx="1156.2" cy="258.6" r="5.5"/>
<circle cx="1149.4" cy="266.5" r="5.5"/>
<circle cx="1002.0" cy="261.1" r="5.5"/>
<circle cx="1018.9" cy="260.6" r="5.5"/>
<circle cx="1032.9" cy="260.0" r="5.5"/>
<circle cx="1017.3" cy="279.5" r="5.5"/>
<circle cx="1027.2" cy="280.2" r="5.5"/>
<circle cx="1030.8" cy="286.3" r="5.5"/>
<circle cx="1032.4" cy="290.8" r="5.5"/>
<circle cx="1042.5" cy="288.5" r="5.5"/>
<circle cx="1040.7" cy="296.4" r="5.5"/>
<circle cx="1091.6" cy="292.6" r="5.5"/>
<circle cx="1103.8" cy="290.8" r="5.5"/>
<circle cx="1168.1" cy="296.0" r="5.5"/>
<circle cx="1009.2" cy="303.9" r="5.5"/>
<circle cx="1020.7" cy="304.8" r="5.5"/>
<circle cx="1029.0" cy="301.6" r="5.5"/>
<circle cx="1040.3" cy="307.7" r="5.5"/>
<circle cx="1004.3" cy="313.3" r="5.5"/>
<circle cx="999.8" cy="316.7" r="5.5"/>
<circle cx="1013.3" cy="314.4" r="5.5"/>
<circle cx="1020.0" cy="317.8" r="5.5"/>
<circle cx="972.8" cy="329.1" r="5.5"/>
<circle cx="989.0" cy="326.4" r="5.5"/>
<circle cx="997.5" cy="324.6" r="5.5"/>
<circle cx="1004.3" cy="331.3" r="5.5"/>
<circle cx="1017.3" cy="332.4" r="5.5"/>
<circle cx="1015.5" cy="325.7" r="5.5"/>
<circle cx="1038.0" cy="324.6" r="5.5"/>
<circle cx="1044.8" cy="326.8" r="5.5"/>
<circle cx="1049.3" cy="333.6" r="5.5"/>
<circle cx="1041.4" cy="333.6" r="5.5"/>
<circle cx="1078.6" cy="306.6" r="5.5"/>
<circle cx="1079.0" cy="312.9" r="5.5"/>
<circle cx="1087.6" cy="305.9" r="5.5"/>
<circle cx="1097.0" cy="308.4" r="5.5"/>
<circle cx="1112.3" cy="305.4" r="5.5"/>
<circle cx="1069.5" cy="323.4" r="5.5"/>
<circle cx="1076.3" cy="322.3" r="5.5"/>
<circle cx="1083.0" cy="324.6" r="5.5"/>
<circle cx="1089.8" cy="326.8" r="5.5"/>
<circle cx="1140.4" cy="329.1" r="5.5"/>
<circle cx="1140.4" cy="331.3" r="5.5"/>
<circle cx="1190.0" cy="330.9" r="5.5"/>
<circle cx="1113.4" cy="333.6" r="5.5"/>
<circle cx="1122.4" cy="333.6" r="5.5"/>
<circle cx="1035.8" cy="317.8" r="5.5"/>
<circle cx="937.9" cy="356.3" r="5.5"/>
<circle cx="931.1" cy="366.4" r="5.5"/>
<circle cx="931.1" cy="382.2" r="5.5"/>
<circle cx="962.6" cy="355.1" r="5.5"/>
<circle cx="973.9" cy="346.1" r="5.5"/>
<circle cx="973.9" cy="349.1" r="5.5"/>
<circle cx="985.1" cy="348.4" r="5.5"/>
<circle cx="968.3" cy="364.1" r="5.5"/>
<circle cx="970.5" cy="373.1" r="5.5"/>
<circle cx="959.3" cy="378.8" r="5.5"/>
<circle cx="960.4" cy="384.4" r="5.5"/>
<circle cx="988.5" cy="363.0" r="5.5"/>
<circle cx="995.3" cy="367.5" r="5.5"/>
<circle cx="980.6" cy="372.0" r="5.5"/>
<circle cx="985.1" cy="384.4" r="5.5"/>
<circle cx="993.0" cy="397.2" r="5.5"/>
<circle cx="1002.0" cy="392.3" r="5.5"/>
<circle cx="1004.3" cy="342.8" r="5.5"/>
<circle cx="1006.5" cy="356.3" r="5.5"/>
<circle cx="1017.8" cy="331.5" r="5.5"/>
<circle cx="1124.7" cy="340.5" r="5.5"/>
<circle cx="1112.3" cy="337.1" r="5.5"/>
<circle cx="1119.1" cy="348.4" r="5.5"/>
<circle cx="1117.9" cy="358.5" r="5.5"/>
<circle cx="1148.8" cy="350.6" r="5.5"/>
<circle cx="1156.9" cy="358.5" r="5.5"/>
<circle cx="1176.0" cy="372.5" r="5.5"/>
<circle cx="1199.0" cy="370.9" r="5.5"/>
<circle cx="1229.3" cy="370.2" r="5.5"/>
<circle cx="1197.8" cy="386.7" r="5.5"/>
<circle cx="1211.8" cy="392.3" r="5.5"/>
<circle cx="1165.2" cy="392.7" r="5.5"/>
<circle cx="1160.7" cy="386.7" r="5.5"/>
<circle cx="1146.1" cy="385.1" r="5.5"/>
<circle cx="1137.1" cy="393.4" r="5.5"/>
<circle cx="1128.1" cy="392.7" r="5.5"/>
<circle cx="1128.1" cy="373.1" r="5.5"/>
<circle cx="1129.2" cy="377.7" r="5.5"/>
<circle cx="1117.9" cy="397.2" r="5.5"/>
<circle cx="1107.8" cy="391.2" r="5.5"/>
<circle cx="1114.6" cy="378.8" r="5.5"/>
<circle cx="1110.1" cy="367.5" r="5.5"/>
<circle cx="1101.1" cy="369.8" r="5.5"/>
<circle cx="1096.6" cy="338.3" r="5.5"/>
<circle cx="1089.8" cy="325.9" r="5.5"/>
<circle cx="1087.6" cy="356.3" r="5.5"/>
<circle cx="812.1" cy="373.8" r="5.5"/>
<circle cx="870.2" cy="380.8" r="5.5"/>
<circle cx="887.7" cy="341.3" r="5.5"/>
<circle cx="901.2" cy="343.3" r="5.5"/>
<circle cx="902.7" cy="366.8" r="5.5"/>
<circle cx="928.7" cy="366.8" r="5.5"/>
<circle cx="937.7" cy="356.3" r="5.5"/>
<circle cx="927.7" cy="381.8" r="5.5"/>
<circle cx="1143.9" cy="120.6" r="5.5"/>
<circle cx="1239.9" cy="385.8" r="5.5"/>
<circle cx="1000.2" cy="318.2" r="5.5"/>
<circle cx="1004.7" cy="330.2" r="5.5"/>
</g>
<g fill="#9bbb59" stroke="#000" stroke-width="1.25">
<path d="M1076.3 288.29999999999995L1084.3999999999999 296.4L1076.3 304.5L1068.2 296.4Z"/>
<path d="M1030.2 311.29999999999995L1038.3 319.4L1030.2 327.5L1022.1 319.4Z"/>
<path d="M1076.3 325.5L1084.3999999999999 333.6L1076.3 341.70000000000005L1068.2 333.6Z"/>
<path d="M1123.6 293.5L1131.6999999999998 301.6L1123.6 309.70000000000005L1115.5 301.6Z"/>
<path d="M1030.6 333.09999999999997L1038.6999999999998 341.2L1030.6 349.3L1022.4999999999999 341.2Z"/>
<path d="M1072.9 330.2L1081.0 338.3L1072.9 346.40000000000003L1064.8000000000002 338.3Z"/>
<path d="M1077.4 338.0L1085.5 346.1L1077.4 354.20000000000005L1069.3000000000002 346.1Z"/>
<path d="M1085.3 338.0L1093.3999999999999 346.1L1085.3 354.20000000000005L1077.2 346.1Z"/>
<path d="M1099.3 339.2L1107.3999999999999 347.3L1099.3 355.40000000000003L1091.2 347.3Z"/>
<path d="M1135.3 348.79999999999995L1143.3999999999999 356.9L1135.3 365.0L1127.2 356.9Z"/>
<path d="M1071.8 352.7L1079.8999999999999 360.8L1071.8 368.90000000000003L1063.7 360.8Z"/>
<path d="M1065.0 359.4L1073.1 367.5L1065.0 375.6L1056.9 367.5Z"/>
<path d="M1076.3 363.9L1084.3999999999999 372.0L1076.3 380.1L1068.2 372.0Z"/>
<path d="M1083.0 369.59999999999997L1091.1 377.7L1083.0 385.8L1074.9 377.7Z"/>
<path d="M1081.9 377.4L1090.0 385.5L1081.9 393.6L1073.8000000000002 385.5Z"/>
<path d="M1069.5 372.9L1077.6 381.0L1069.5 389.1L1061.4 381.0Z"/>
<path d="M1065.0 379.7L1073.1 387.8L1065.0 395.90000000000003L1056.9 387.8Z"/>
<path d="M1074.0 381.9L1082.1 390.0L1074.0 398.1L1065.9 390.0Z"/>
<path d="M1037.4 374.5L1045.5 382.6L1037.4 390.70000000000005L1029.3000000000002 382.6Z"/>
<path d="M1049.7 374.5L1057.8 382.6L1049.7 390.70000000000005L1041.6000000000001 382.6Z"/>
<path d="M1037.4 390.29999999999995L1045.5 398.4L1037.4 406.5L1029.3000000000002 398.4Z"/>
<path d="M1052.7 393.2L1060.8 401.3L1052.7 409.40000000000003L1044.6000000000001 401.3Z"/>
<path d="M1065.0 392.09999999999997L1073.1 400.2L1065.0 408.3L1056.9 400.2Z"/>
<path d="M1077.0 395.9L1085.1 404.0L1077.0 412.1L1068.9 404.0Z"/>
<path d="M1058.3 403.79999999999995L1066.3999999999999 411.9L1058.3 420.0L1050.2 411.9Z"/>
<path d="M975.7 384.2L983.8000000000001 392.3L975.7 400.40000000000003L967.6 392.3Z"/>
<path d="M1015.5 390.29999999999995L1023.6 398.4L1015.5 406.5L1007.4 398.4Z"/>
<path d="M1051.5 388.7L1059.6 396.8L1051.5 404.90000000000003L1043.4 396.8Z"/>
<path d="M1062.1 357.7L1070.1999999999998 365.8L1062.1 373.90000000000003L1054.0 365.8Z"/>
<path d="M1066.6 353.2L1074.6999999999998 361.3L1066.6 369.40000000000003L1058.5 361.3Z"/>
<path d="M1071.1 350.9L1079.1999999999998 359.0L1071.1 367.1L1063.0 359.0Z"/>
<path d="M1075.6 357.7L1083.6999999999998 365.8L1075.6 373.90000000000003L1067.5 365.8Z"/>
<path d="M1080.1 364.4L1088.1999999999998 372.5L1080.1 380.6L1072.0 372.5Z"/>
<path d="M1075.6 368.9L1083.6999999999998 377.0L1075.6 385.1L1067.5 377.0Z"/>
<path d="M1068.8 364.4L1076.8999999999999 372.5L1068.8 380.6L1060.7 372.5Z"/>
<path d="M1064.3 373.4L1072.3999999999999 381.5L1064.3 389.6L1056.2 381.5Z"/>
<path d="M1071.1 377.9L1079.1999999999998 386.0L1071.1 394.1L1063.0 386.0Z"/>
<path d="M1077.8 374.59999999999997L1085.8999999999999 382.7L1077.8 390.8L1069.7 382.7Z"/>
<path d="M1082.3 377.9L1090.3999999999999 386.0L1082.3 394.1L1074.2 386.0Z"/>
<path d="M1057.6 382.4L1065.6999999999998 390.5L1057.6 398.6L1049.5 390.5Z"/>
<path d="M1062.1 386.9L1070.1999999999998 395.0L1062.1 403.1L1054.0 395.0Z"/>
<path d="M1053.0 391.4L1061.1 399.5L1053.0 407.6L1044.9 399.5Z"/>
<path d="M1057.6 398.2L1065.6999999999998 406.3L1057.6 414.40000000000003L1049.5 406.3Z"/>
<path d="M1066.6 391.4L1074.6999999999998 399.5L1066.6 407.6L1058.5 399.5Z"/>
<path d="M1071.1 386.9L1079.1999999999998 395.0L1071.1 403.1L1063.0 395.0Z"/>
<path d="M1077.8 389.2L1085.8999999999999 397.3L1077.8 405.40000000000003L1069.7 397.3Z"/>
<path d="M1082.3 395.9L1090.3999999999999 404.0L1082.3 412.1L1074.2 404.0Z"/>
<path d="M1057.6 404.9L1065.6999999999998 413.0L1057.6 421.1L1049.5 413.0Z"/>
</g>
<g stroke="#000" stroke-width="2.6" fill="none">
<line x1="792.8" y1="15" x2="792.8" y2="415.4"/>
<line x1="785.1999999999999" y1="414.2" x2="1326.3" y2="414.2"/>
<line x1="793.1" y1="414.2" x2="793.1" y2="421.4"/>
<line x1="859.6" y1="414.2" x2="859.6" y2="419.4"/>
<line x1="926.1" y1="414.2" x2="926.1" y2="421.4"/>
<line x1="992.6" y1="414.2" x2="992.6" y2="419.4"/>
<line x1="1059.1" y1="414.2" x2="1059.1" y2="421.4"/>
<line x1="1125.6" y1="414.2" x2="1125.6" y2="419.4"/>
<line x1="1192.1" y1="414.2" x2="1192.1" y2="421.4"/>
<line x1="1258.6" y1="414.2" x2="1258.6" y2="419.4"/>
<line x1="1325.1" y1="414.2" x2="1325.1" y2="421.4"/>
<line x1="787.1999999999999" y1="353.2" x2="792.8" y2="353.2"/>
<line x1="785.1999999999999" y1="292.2" x2="792.8" y2="292.2"/>
<line x1="787.1999999999999" y1="231.2" x2="792.8" y2="231.2"/>
<line x1="785.1999999999999" y1="170.2" x2="792.8" y2="170.2"/>
<line x1="787.1999999999999" y1="109.2" x2="792.8" y2="109.2"/>
<line x1="785.1999999999999" y1="48.2" x2="792.8" y2="48.2"/>
</g>
<text x="793.1" y="454.0" font-size="30" text-anchor="middle" font-weight="normal" font-style="normal" >–4</text>
<text x="926.1" y="454.0" font-size="30" text-anchor="middle" font-weight="normal" font-style="normal" >–2</text>
<text x="1059.1" y="454.0" font-size="30" text-anchor="middle" font-weight="normal" font-style="normal" >0</text>
<text x="1192.1" y="454.0" font-size="30" text-anchor="middle" font-weight="normal" font-style="normal" >2</text>
<text x="1325.1" y="454.0" font-size="30" text-anchor="middle" font-weight="normal" font-style="normal" >4</text>
<text x="773.8" y="423.8" font-size="30" text-anchor="end" font-weight="normal" font-style="normal" >0</text>
<text x="773.8" y="301.8" font-size="30" text-anchor="end" font-weight="normal" font-style="normal" >2</text>
<text x="773.8" y="179.8" font-size="30" text-anchor="end" font-weight="normal" font-style="normal" >4</text>
<text x="773.8" y="57.8" font-size="30" text-anchor="end" font-weight="normal" font-style="normal" >6</text>
<text x="1058.8" y="491.3" font-size="29.3" text-anchor="middle">log2 (<tspan font-style="italic">rpn8a</tspan>/WT)</text>
<text transform="translate(731.2,233.0) rotate(-90)" font-size="29.3" text-anchor="middle">–log10 (<tspan font-style="italic">p</tspan>-value)</text>
<rect x="87" y="756.7" width="227" height="325.79999999999995" fill="#d9d9d9"/>
<rect x="392" y="756.7" width="227" height="325.79999999999995" fill="#d9d9d9"/>
<g fill="#808080" stroke="#595959" stroke-width="0.9">
<circle cx="311.6" cy="1040.9" r="5.5"/>
<circle cx="319.2" cy="1040.7" r="5.5"/>
<circle cx="326.5" cy="1038.9" r="5.5"/>
<circle cx="307.4" cy="1047.1" r="5.5"/>
<circle cx="315.6" cy="1047.2" r="5.5"/>
<circle cx="325.8" cy="1047.2" r="5.5"/>
<circle cx="329.9" cy="1046.0" r="5.5"/>
<circle cx="340.7" cy="1049.6" r="5.5"/>
<circle cx="303.2" cy="1056.3" r="5.5"/>
<circle cx="311.2" cy="1055.0" r="5.5"/>
<circle cx="319.0" cy="1053.0" r="5.5"/>
<circle cx="326.1" cy="1055.8" r="5.5"/>
<circle cx="336.9" cy="1054.1" r="5.5"/>
<circle cx="306.1" cy="1062.7" r="5.5"/>
<circle cx="316.9" cy="1061.4" r="5.5"/>
<circle cx="325.1" cy="1059.7" r="5.5"/>
<circle cx="330.8" cy="1060.7" r="5.5"/>
<circle cx="339.5" cy="1060.2" r="5.5"/>
<circle cx="301.9" cy="1067.3" r="5.5"/>
<circle cx="313.2" cy="1069.6" r="5.5"/>
<circle cx="321.3" cy="1068.8" r="5.5"/>
<circle cx="327.5" cy="1068.8" r="5.5"/>
<circle cx="337.2" cy="1067.7" r="5.5"/>
<circle cx="343.9" cy="1067.5" r="5.5"/>
<circle cx="309.4" cy="1073.9" r="5.5"/>
<circle cx="314.2" cy="1073.7" r="5.5"/>
<circle cx="321.9" cy="1075.2" r="5.5"/>
<circle cx="330.4" cy="1076.8" r="5.5"/>
<circle cx="340.4" cy="1073.9" r="5.5"/>
<circle cx="348.0" cy="1074.7" r="5.5"/>
<circle cx="304.6" cy="1083.8" r="5.5"/>
<circle cx="312.9" cy="1083.5" r="5.5"/>
<circle cx="317.8" cy="1082.2" r="5.5"/>
<circle cx="326.1" cy="1083.4" r="5.5"/>
<circle cx="334.5" cy="1083.1" r="5.5"/>
<circle cx="342.8" cy="1083.1" r="5.5"/>
<circle cx="300.2" cy="1089.3" r="5.5"/>
<circle cx="308.7" cy="1091.1" r="5.5"/>
<circle cx="315.0" cy="1090.0" r="5.5"/>
<circle cx="323.9" cy="1089.5" r="5.5"/>
<circle cx="330.1" cy="1090.5" r="5.5"/>
<circle cx="341.7" cy="1088.6" r="5.5"/>
<circle cx="347.1" cy="1091.2" r="5.5"/>
<circle cx="296.3" cy="1094.2" r="5.5"/>
<circle cx="304.4" cy="1095.9" r="5.5"/>
<circle cx="311.9" cy="1095.7" r="5.5"/>
<circle cx="319.4" cy="1095.1" r="5.5"/>
<circle cx="326.0" cy="1095.9" r="5.5"/>
<circle cx="334.8" cy="1097.0" r="5.5"/>
<circle cx="345.1" cy="1097.0" r="5.5"/>
<circle cx="276.3" cy="1104.9" r="5.5"/>
<circle cx="282.1" cy="1103.0" r="5.5"/>
<circle cx="291.8" cy="1103.9" r="5.5"/>
<circle cx="301.4" cy="1104.2" r="5.5"/>
<circle cx="308.3" cy="1104.1" r="5.5"/>
<circle cx="316.5" cy="1104.5" r="5.5"/>
<circle cx="324.6" cy="1103.8" r="5.5"/>
<circle cx="330.8" cy="1104.7" r="5.5"/>
<circle cx="339.3" cy="1103.5" r="5.5"/>
<circle cx="349.1" cy="1104.9" r="5.5"/>
<circle cx="279.1" cy="1109.3" r="5.5"/>
<circle cx="287.4" cy="1108.6" r="5.5"/>
<circle cx="296.0" cy="1108.3" r="5.5"/>
<circle cx="303.0" cy="1111.8" r="5.5"/>
<circle cx="312.8" cy="1109.9" r="5.5"/>
<circle cx="318.2" cy="1111.8" r="5.5"/>
<circle cx="328.6" cy="1108.8" r="5.5"/>
<circle cx="335.1" cy="1110.6" r="5.5"/>
<circle cx="344.5" cy="1109.1" r="5.5"/>
<circle cx="274.4" cy="1117.7" r="5.5"/>
<circle cx="282.6" cy="1117.3" r="5.5"/>
<circle cx="290.9" cy="1116.5" r="5.5"/>
<circle cx="301.6" cy="1116.8" r="5.5"/>
<circle cx="307.5" cy="1117.4" r="5.5"/>
<circle cx="314.9" cy="1115.6" r="5.5"/>
<circle cx="323.3" cy="1116.0" r="5.5"/>
<circle cx="330.6" cy="1118.8" r="5.5"/>
<circle cx="337.9" cy="1118.2" r="5.5"/>
<circle cx="349.5" cy="1117.8" r="5.5"/>
<circle cx="269.9" cy="1123.9" r="5.5"/>
<circle cx="278.0" cy="1124.3" r="5.5"/>
<circle cx="288.6" cy="1122.8" r="5.5"/>
<circle cx="293.8" cy="1124.0" r="5.5"/>
<circle cx="302.2" cy="1123.1" r="5.5"/>
<circle cx="311.6" cy="1125.4" r="5.5"/>
<circle cx="319.3" cy="1122.4" r="5.5"/>
<circle cx="329.0" cy="1125.2" r="5.5"/>
<circle cx="335.9" cy="1122.1" r="5.5"/>
<circle cx="342.6" cy="1123.5" r="5.5"/>
<circle cx="352.0" cy="1122.8" r="5.5"/>
<circle cx="269.0" cy="1132.2" r="5.5"/>
<circle cx="277.5" cy="1132.3" r="5.5"/>
<circle cx="281.9" cy="1131.1" r="5.5"/>
<circle cx="290.1" cy="1132.4" r="5.5"/>
<circle cx="300.8" cy="1131.8" r="5.5"/>
<circle cx="306.6" cy="1129.0" r="5.5"/>
<circle cx="317.1" cy="1131.2" r="5.5"/>
<circle cx="324.3" cy="1130.7" r="5.5"/>
<circle cx="333.0" cy="1130.1" r="5.5"/>
<circle cx="338.9" cy="1130.2" r="5.5"/>
<circle cx="347.0" cy="1131.3" r="5.5"/>
<circle cx="273.4" cy="1136.0" r="5.5"/>
<circle cx="278.1" cy="1137.8" r="5.5"/>
<circle cx="288.5" cy="1136.5" r="5.5"/>
<circle cx="294.9" cy="1136.0" r="5.5"/>
<circle cx="301.9" cy="1137.7" r="5.5"/>
<circle cx="312.5" cy="1138.3" r="5.5"/>
<circle cx="318.4" cy="1136.1" r="5.5"/>
<circle cx="329.5" cy="1137.9" r="5.5"/>
<circle cx="335.4" cy="1138.5" r="5.5"/>
<circle cx="344.7" cy="1137.8" r="5.5"/>
<circle cx="350.1" cy="1139.0" r="5.5"/>
<circle cx="275.2" cy="1144.8" r="5.5"/>
<circle cx="284.3" cy="1143.3" r="5.5"/>
<circle cx="292.6" cy="1144.6" r="5.5"/>
<circle cx="298.4" cy="1146.1" r="5.5"/>
<circle cx="309.0" cy="1146.3" r="5.5"/>
<circle cx="316.5" cy="1143.5" r="5.5"/>
<circle cx="324.9" cy="1146.3" r="5.5"/>
<circle cx="331.9" cy="1146.3" r="5.5"/>
<circle cx="341.7" cy="1144.2" r="5.5"/>
<circle cx="349.6" cy="1146.4" r="5.5"/>
<circle cx="288.2" cy="1152.6" r="5.5"/>
<circle cx="296.4" cy="1150.2" r="5.5"/>
<circle cx="305.5" cy="1151.7" r="5.5"/>
<circle cx="313.3" cy="1150.4" r="5.5"/>
<circle cx="321.8" cy="1151.8" r="5.5"/>
<circle cx="328.9" cy="1152.5" r="5.5"/>
<circle cx="337.3" cy="1151.0" r="5.5"/>
<circle cx="342.1" cy="1151.2" r="5.5"/>
<circle cx="350.5" cy="1151.7" r="5.5"/>
<circle cx="367.8" cy="1034.3" r="5.5"/>
<circle cx="376.2" cy="1035.0" r="5.5"/>
<circle cx="360.5" cy="1042.6" r="5.5"/>
<circle cx="370.4" cy="1040.9" r="5.5"/>
<circle cx="378.0" cy="1041.5" r="5.5"/>
<circle cx="357.8" cy="1047.5" r="5.5"/>
<circle cx="366.0" cy="1049.5" r="5.5"/>
<circle cx="376.2" cy="1047.8" r="5.5"/>
<circle cx="382.0" cy="1046.2" r="5.5"/>
<circle cx="362.0" cy="1056.0" r="5.5"/>
<circle cx="372.1" cy="1054.6" r="5.5"/>
<circle cx="379.8" cy="1054.7" r="5.5"/>
<circle cx="386.5" cy="1055.1" r="5.5"/>
<circle cx="356.5" cy="1061.6" r="5.5"/>
<circle cx="366.9" cy="1061.0" r="5.5"/>
<circle cx="373.1" cy="1062.4" r="5.5"/>
<circle cx="382.1" cy="1060.7" r="5.5"/>
<circle cx="388.6" cy="1063.5" r="5.5"/>
<circle cx="364.1" cy="1069.9" r="5.5"/>
<circle cx="368.6" cy="1068.1" r="5.5"/>
<circle cx="379.8" cy="1066.7" r="5.5"/>
<circle cx="385.2" cy="1068.5" r="5.5"/>
<circle cx="360.0" cy="1076.1" r="5.5"/>
<circle cx="364.6" cy="1075.5" r="5.5"/>
<circle cx="374.8" cy="1073.7" r="5.5"/>
<circle cx="382.3" cy="1073.6" r="5.5"/>
<circle cx="361.1" cy="1083.6" r="5.5"/>
<circle cx="372.0" cy="1082.6" r="5.5"/>
<circle cx="377.8" cy="1083.8" r="5.5"/>
<circle cx="386.5" cy="1081.2" r="5.5"/>
<circle cx="359.4" cy="1088.9" r="5.5"/>
<circle cx="367.0" cy="1088.1" r="5.5"/>
<circle cx="373.0" cy="1087.6" r="5.5"/>
<circle cx="381.9" cy="1088.3" r="5.5"/>
<circle cx="390.5" cy="1091.2" r="5.5"/>
<circle cx="355.7" cy="1094.7" r="5.5"/>
<circle cx="360.7" cy="1095.0" r="5.5"/>
<circle cx="370.4" cy="1098.0" r="5.5"/>
<circle cx="380.0" cy="1095.9" r="5.5"/>
<circle cx="386.9" cy="1097.2" r="5.5"/>
<circle cx="393.7" cy="1098.2" r="5.5"/>
<circle cx="356.6" cy="1104.9" r="5.5"/>
<circle cx="365.6" cy="1101.3" r="5.5"/>
<circle cx="373.7" cy="1101.6" r="5.5"/>
<circle cx="382.2" cy="1102.5" r="5.5"/>
<circle cx="389.1" cy="1103.1" r="5.5"/>
<circle cx="398.1" cy="1102.6" r="5.5"/>
<circle cx="407.7" cy="1102.4" r="5.5"/>
<circle cx="414.6" cy="1104.7" r="5.5"/>
<circle cx="360.9" cy="1109.1" r="5.5"/>
<circle cx="369.6" cy="1108.7" r="5.5"/>
<circle cx="376.6" cy="1112.1" r="5.5"/>
<circle cx="387.7" cy="1108.6" r="5.5"/>
<circle cx="394.3" cy="1111.3" r="5.5"/>
<circle cx="402.4" cy="1108.4" r="5.5"/>
<circle cx="409.8" cy="1109.7" r="5.5"/>
<circle cx="420.1" cy="1110.5" r="5.5"/>
<circle cx="356.6" cy="1117.8" r="5.5"/>
<circle cx="367.6" cy="1117.7" r="5.5"/>
<circle cx="373.8" cy="1116.2" r="5.5"/>
<circle cx="380.4" cy="1115.4" r="5.5"/>
<circle cx="389.0" cy="1116.9" r="5.5"/>
<circle cx="399.5" cy="1115.9" r="5.5"/>
<circle cx="406.3" cy="1117.6" r="5.5"/>
<circle cx="414.9" cy="1115.1" r="5.5"/>
<circle cx="424.1" cy="1117.4" r="5.5"/>
<circle cx="361.7" cy="1123.6" r="5.5"/>
<circle cx="370.6" cy="1122.7" r="5.5"/>
<circle cx="378.0" cy="1125.7" r="5.5"/>
<circle cx="386.6" cy="1125.3" r="5.5"/>
<circle cx="393.4" cy="1125.5" r="5.5"/>
<circle cx="403.5" cy="1122.9" r="5.5"/>
<circle cx="410.5" cy="1124.7" r="5.5"/>
<circle cx="418.7" cy="1124.4" r="5.5"/>
<circle cx="425.4" cy="1124.2" r="5.5"/>
<circle cx="357.8" cy="1132.1" r="5.5"/>
<circle cx="365.9" cy="1132.8" r="5.5"/>
<circle cx="374.7" cy="1129.8" r="5.5"/>
<circle cx="382.1" cy="1129.4" r="5.5"/>
<circle cx="391.3" cy="1129.1" r="5.5"/>
<circle cx="398.8" cy="1130.2" r="5.5"/>
<circle cx="407.5" cy="1129.4" r="5.5"/>
<circle cx="415.1" cy="1131.8" r="5.5"/>
<circle cx="421.3" cy="1129.4" r="5.5"/>
<circle cx="429.9" cy="1131.5" r="5.5"/>
<circle cx="362.2" cy="1139.1" r="5.5"/>
<circle cx="369.0" cy="1139.6" r="5.5"/>
<circle cx="378.4" cy="1136.5" r="5.5"/>
<circle cx="384.8" cy="1137.3" r="5.5"/>
<circle cx="394.3" cy="1136.6" r="5.5"/>
<circle cx="400.7" cy="1137.9" r="5.5"/>
<circle cx="409.4" cy="1137.6" r="5.5"/>
<circle cx="418.2" cy="1138.6" r="5.5"/>
<circle cx="426.7" cy="1136.8" r="5.5"/>
<circle cx="357.1" cy="1146.2" r="5.5"/>
<circle cx="364.6" cy="1143.3" r="5.5"/>
<circle cx="372.7" cy="1146.1" r="5.5"/>
<circle cx="382.6" cy="1146.5" r="5.5"/>
<circle cx="390.9" cy="1144.1" r="5.5"/>
<circle cx="398.1" cy="1145.7" r="5.5"/>
<circle cx="405.3" cy="1146.0" r="5.5"/>
<circle cx="414.0" cy="1142.9" r="5.5"/>
<circle cx="421.8" cy="1145.0" r="5.5"/>
<circle cx="364.0" cy="1152.5" r="5.5"/>
<circle cx="370.6" cy="1150.3" r="5.5"/>
<circle cx="380.2" cy="1153.4" r="5.5"/>
<circle cx="386.2" cy="1151.2" r="5.5"/>
<circle cx="392.7" cy="1152.2" r="5.5"/>
<circle cx="403.8" cy="1151.3" r="5.5"/>
<circle cx="328.1" cy="778.5" r="5.5"/>
<circle cx="327.0" cy="828.0" r="5.5"/>
<circle cx="382.8" cy="832.7" r="5.5"/>
<circle cx="335.8" cy="851.6" r="5.5"/>
<circle cx="340.0" cy="875.9" r="5.5"/>
<circle cx="327.0" cy="920.3" r="5.5"/>
<circle cx="334.0" cy="932.2" r="5.5"/>
<circle cx="377.8" cy="916.9" r="5.5"/>
<circle cx="371.8" cy="945.0" r="5.5"/>
<circle cx="301.8" cy="954.7" r="5.5"/>
<circle cx="406.4" cy="953.1" r="5.5"/>
<circle cx="427.8" cy="940.7" r="5.5"/>
<circle cx="557.1" cy="967.2" r="5.5"/>
<circle cx="281.0" cy="984.7" r="5.5"/>
<circle cx="309.9" cy="977.8" r="5.5"/>
<circle cx="318.3" cy="981.0" r="5.5"/>
<circle cx="339.0" cy="972.4" r="5.5"/>
<circle cx="330.9" cy="985.9" r="5.5"/>
<circle cx="332.7" cy="990.8" r="5.5"/>
<circle cx="324.6" cy="997.3" r="5.5"/>
<circle cx="329.1" cy="1002.1" r="5.5"/>
<circle cx="331.8" cy="1010.2" r="5.5"/>
<circle cx="338.1" cy="1012.9" r="5.5"/>
<circle cx="341.7" cy="1019.2" r="5.5"/>
<circle cx="326.4" cy="1021.9" r="5.5"/>
<circle cx="343.0" cy="1031.8" r="5.5"/>
<circle cx="320.5" cy="1037.8" r="5.5"/>
<circle cx="330.9" cy="1037.2" r="5.5"/>
<circle cx="331.5" cy="1043.0" r="5.5"/>
<circle cx="343.5" cy="1045.3" r="5.5"/>
<circle cx="376.8" cy="978.2" r="5.5"/>
<circle cx="384.6" cy="985.0" r="5.5"/>
<circle cx="374.7" cy="994.9" r="5.5"/>
<circle cx="396.6" cy="997.3" r="5.5"/>
<circle cx="405.6" cy="991.3" r="5.5"/>
<circle cx="371.1" cy="1014.7" r="5.5"/>
<circle cx="381.3" cy="1013.8" r="5.5"/>
<circle cx="375.0" cy="1020.7" r="5.5"/>
<circle cx="371.4" cy="1024.6" r="5.5"/>
<circle cx="411.6" cy="1027.7" r="5.5"/>
<circle cx="362.1" cy="1036.3" r="5.5"/>
<circle cx="379.5" cy="1032.7" r="5.5"/>
<circle cx="387.3" cy="1038.1" r="5.5"/>
<circle cx="369.6" cy="1037.2" r="5.5"/>
<circle cx="366.9" cy="1044.4" r="5.5"/>
<circle cx="375.9" cy="1051.6" r="5.5"/>
<circle cx="364.2" cy="1051.6" r="5.5"/>
<circle cx="392.1" cy="1054.3" r="5.5"/>
<circle cx="394.8" cy="1051.6" r="5.5"/>
<circle cx="410.1" cy="1060.6" r="5.5"/>
<circle cx="431.4" cy="1058.8" r="5.5"/>
<circle cx="452.5" cy="1063.0" r="5.5"/>
<circle cx="463.3" cy="1065.7" r="5.5"/>
<circle cx="463.8" cy="1062.4" r="5.5"/>
<circle cx="425.1" cy="1071.1" r="5.5"/>
<circle cx="398.4" cy="1073.2" r="5.5"/>
<circle cx="305.7" cy="1049.5" r="5.5"/>
<circle cx="315.6" cy="1048.0" r="5.5"/>
<circle cx="308.4" cy="1056.1" r="5.5"/>
<circle cx="316.5" cy="1057.0" r="5.5"/>
<circle cx="327.3" cy="1052.5" r="5.5"/>
<circle cx="330.9" cy="1058.8" r="5.5"/>
<circle cx="338.1" cy="1064.2" r="5.5"/>
<circle cx="304.5" cy="1066.6" r="5.5"/>
<circle cx="315.6" cy="1063.3" r="5.5"/>
<circle cx="284.1" cy="1073.2" r="5.5"/>
<circle cx="290.4" cy="1075.0" r="5.5"/>
<circle cx="283.2" cy="1078.6" r="5.5"/>
<circle cx="336.3" cy="1068.7" r="5.5"/>
<circle cx="364.2" cy="1063.3" r="5.5"/>
<circle cx="358.8" cy="1066.0" r="5.5"/>
<circle cx="378.6" cy="1063.3" r="5.5"/>
<circle cx="371.4" cy="1073.2" r="5.5"/>
<circle cx="364.2" cy="1074.1" r="5.5"/>
<circle cx="384.0" cy="1075.0" r="5.5"/>
<circle cx="385.8" cy="1080.4" r="5.5"/>
<circle cx="360.6" cy="1080.4" r="5.5"/>
<circle cx="372.3" cy="1085.8" r="5.5"/>
<circle cx="348.0" cy="1085.8" r="5.5"/>
<circle cx="344.4" cy="1076.8" r="5.5"/>
<circle cx="319.2" cy="1082.2" r="5.5"/>
<circle cx="317.4" cy="1093.0" r="5.5"/>
<circle cx="326.4" cy="1087.6" r="5.5"/>
<circle cx="295.8" cy="1094.8" r="5.5"/>
<circle cx="272.4" cy="1095.7" r="5.5"/>
<circle cx="357.0" cy="1091.2" r="5.5"/>
<circle cx="362.4" cy="1093.0" r="5.5"/>
<circle cx="391.2" cy="1090.3" r="5.5"/>
<circle cx="412.8" cy="1092.1" r="5.5"/>
<circle cx="420.0" cy="1096.6" r="5.5"/>
<circle cx="438.1" cy="1097.5" r="5.5"/>
<circle cx="452.5" cy="1096.6" r="5.5"/>
<circle cx="457.9" cy="1094.8" r="5.5"/>
<circle cx="396.6" cy="1096.6" r="5.5"/>
<circle cx="153.9" cy="1091.5" r="5.5"/>
<circle cx="166.0" cy="1134.4" r="5.5"/>
<circle cx="207.8" cy="1075.8" r="5.5"/>
<circle cx="227.8" cy="1078.0" r="5.5"/>
<circle cx="230.1" cy="1101.1" r="5.5"/>
<circle cx="236.2" cy="1114.0" r="5.5"/>
<circle cx="256.0" cy="1113.1" r="5.5"/>
<circle cx="211.9" cy="1123.9" r="5.5"/>
<circle cx="212.5" cy="1127.0" r="5.5"/>
<circle cx="225.4" cy="1127.5" r="5.5"/>
<circle cx="215.0" cy="1144.6" r="5.5"/>
<circle cx="224.5" cy="1140.7" r="5.5"/>
<circle cx="234.4" cy="1135.6" r="5.5"/>
<circle cx="240.2" cy="1135.6" r="5.5"/>
<circle cx="242.5" cy="1128.4" r="5.5"/>
<circle cx="252.4" cy="1125.7" r="5.5"/>
<circle cx="257.8" cy="1137.4" r="5.5"/>
<circle cx="254.2" cy="1127.5" r="5.5"/>
<circle cx="264.1" cy="1129.3" r="5.5"/>
<circle cx="269.5" cy="1135.6" r="5.5"/>
<circle cx="265.9" cy="1139.2" r="5.5"/>
<circle cx="273.1" cy="1096.9" r="5.5"/>
<circle cx="274.0" cy="1107.7" r="5.5"/>
<circle cx="283.0" cy="1072.6" r="5.5"/>
<circle cx="290.2" cy="1074.4" r="5.5"/>
<circle cx="296.5" cy="1096.0" r="5.5"/>
<circle cx="272.2" cy="1121.2" r="5.5"/>
<circle cx="276.7" cy="1131.1" r="5.5"/>
<circle cx="281.2" cy="1137.4" r="5.5"/>
<circle cx="286.6" cy="1144.6" r="5.5"/>
<circle cx="290.2" cy="1149.1" r="5.5"/>
<circle cx="281.2" cy="1114.0" r="5.5"/>
<circle cx="286.6" cy="1121.2" r="5.5"/>
<circle cx="292.0" cy="1117.6" r="5.5"/>
<circle cx="297.4" cy="1124.8" r="5.5"/>
<circle cx="302.8" cy="1132.0" r="5.5"/>
<circle cx="299.2" cy="1142.8" r="5.5"/>
<circle cx="310.0" cy="1148.2" r="5.5"/>
<circle cx="308.3" cy="1121.2" r="5.5"/>
<circle cx="308.3" cy="1105.0" r="5.5"/>
<circle cx="319.0" cy="1094.2" r="5.5"/>
<circle cx="311.8" cy="1096.0" r="5.5"/>
<circle cx="302.8" cy="1065.4" r="5.5"/>
<circle cx="317.3" cy="1076.2" r="5.5"/>
<circle cx="328.1" cy="1067.2" r="5.5"/>
<circle cx="337.1" cy="1067.2" r="5.5"/>
<circle cx="346.1" cy="1085.2" r="5.5"/>
<circle cx="331.7" cy="1114.0" r="5.5"/>
<circle cx="328.1" cy="1123.0" r="5.5"/>
<circle cx="333.5" cy="1157.2" r="5.5"/>
<circle cx="358.7" cy="1130.2" r="5.5"/>
<circle cx="364.1" cy="1067.2" r="5.5"/>
<circle cx="360.5" cy="1092.4" r="5.5"/>
<circle cx="364.1" cy="1108.6" r="5.5"/>
<circle cx="355.1" cy="1106.8" r="5.5"/>
<circle cx="409.9" cy="1060.5" r="5.5"/>
<circle cx="431.4" cy="1058.8" r="5.5"/>
<circle cx="452.4" cy="1063.0" r="5.5"/>
<circle cx="463.5" cy="1063.0" r="5.5"/>
<circle cx="463.9" cy="1066.4" r="5.5"/>
<circle cx="425.1" cy="1071.0" r="5.5"/>
<circle cx="398.8" cy="1071.0" r="5.5"/>
<circle cx="497.1" cy="1088.4" r="5.5"/>
<circle cx="516.0" cy="1085.7" r="5.5"/>
<circle cx="545.4" cy="1107.1" r="5.5"/>
<circle cx="586.2" cy="1120.8" r="5.5"/>
<circle cx="567.9" cy="1130.9" r="5.5"/>
<circle cx="506.4" cy="1131.9" r="5.5"/>
<circle cx="484.5" cy="1133.6" r="5.5"/>
<circle cx="471.3" cy="1134.0" r="5.5"/>
<circle cx="472.7" cy="1142.0" r="5.5"/>
<circle cx="461.8" cy="1129.8" r="5.5"/>
<circle cx="455.5" cy="1126.7" r="5.5"/>
<circle cx="462.9" cy="1120.4" r="5.5"/>
<circle cx="470.6" cy="1109.9" r="5.5"/>
<circle cx="459.1" cy="1112.4" r="5.5"/>
<circle cx="445.0" cy="1120.4" r="5.5"/>
<circle cx="437.7" cy="1123.5" r="5.5"/>
<circle cx="442.9" cy="1143.5" r="5.5"/>
<circle cx="435.6" cy="1136.1" r="5.5"/>
<circle cx="423.0" cy="1148.7" r="5.5"/>
<circle cx="426.1" cy="1138.2" r="5.5"/>
<circle cx="417.7" cy="1140.3" r="5.5"/>
<circle cx="441.9" cy="1104.6" r="5.5"/>
<circle cx="438.7" cy="1098.3" r="5.5"/>
<circle cx="452.4" cy="1098.3" r="5.5"/>
<circle cx="457.6" cy="1095.8" r="5.5"/>
<circle cx="428.2" cy="1102.1" r="5.5"/>
<circle cx="426.1" cy="1115.1" r="5.5"/>
<circle cx="413.5" cy="1092.0" r="5.5"/>
<circle cx="419.8" cy="1098.3" r="5.5"/>
<circle cx="390.4" cy="1089.9" r="5.5"/>
<circle cx="396.7" cy="1098.3" r="5.5"/>
<circle cx="406.2" cy="1119.3" r="5.5"/>
<circle cx="411.4" cy="1127.7" r="5.5"/>
<circle cx="403.0" cy="1134.0" r="5.5"/>
<circle cx="407.2" cy="1144.5" r="5.5"/>
<circle cx="386.2" cy="1079.4" r="5.5"/>
<circle cx="392.5" cy="1054.2" r="5.5"/>
<circle cx="377.8" cy="1062.6" r="5.5"/>
<circle cx="363.1" cy="1062.6" r="5.5"/>
<circle cx="371.5" cy="1073.1" r="5.5"/>
<circle cx="382.0" cy="1073.1" r="5.5"/>
<circle cx="361.0" cy="1079.4" r="5.5"/>
<circle cx="371.5" cy="1085.7" r="5.5"/>
<circle cx="361.0" cy="1092.0" r="5.5"/>
<circle cx="377.8" cy="1100.4" r="5.5"/>
<circle cx="367.3" cy="1106.7" r="5.5"/>
<circle cx="379.9" cy="1113.0" r="5.5"/>
<circle cx="390.4" cy="1113.0" r="5.5"/>
<circle cx="394.6" cy="1123.5" r="5.5"/>
<circle cx="375.7" cy="1127.7" r="5.5"/>
<circle cx="382.0" cy="1136.1" r="5.5"/>
<circle cx="388.3" cy="1148.7" r="5.5"/>
<circle cx="371.5" cy="1155.0" r="5.5"/>
<circle cx="361.0" cy="1129.8" r="5.5"/>
<circle cx="346.3" cy="1085.7" r="5.5"/>
<circle cx="344.2" cy="1075.2" r="5.5"/>
<circle cx="340.0" cy="1062.6" r="5.5"/>
</g>
<g fill="#9bbb59" stroke="#000" stroke-width="1.25">
<path d="M339.4 957.1L347.5 965.2L339.4 973.3000000000001L331.29999999999995 965.2Z"/>
<path d="M333.6 1015.1L341.70000000000005 1023.2L333.6 1031.3L325.5 1023.2Z"/>
<path d="M313.5 1063.3000000000002L321.6 1071.4L313.5 1079.5L305.4 1071.4Z"/>
<path d="M332.7 1072.3000000000002L340.8 1080.4L332.7 1088.5L324.59999999999997 1080.4Z"/>
<path d="M288.6 1077.7L296.70000000000005 1085.8L288.6 1093.8999999999999L280.5 1085.8Z"/>
<path d="M399.9 1058.8000000000002L408.0 1066.9L399.9 1075.0L391.79999999999995 1066.9Z"/>
<path d="M344.1 1087.6000000000001L352.20000000000005 1095.7L344.1 1103.8L336.0 1095.7Z"/>
<path d="M294.2 1101.9L302.3 1110.0L294.2 1118.1L286.09999999999997 1110.0Z"/>
<path d="M318.2 1104.7L326.3 1112.8L318.2 1120.8999999999999L310.09999999999997 1112.8Z"/>
<path d="M331.1 1096.9L339.20000000000005 1105.0L331.1 1113.1L323.0 1105.0Z"/>
<path d="M348.4 1107.7L356.5 1115.8L348.4 1123.8999999999999L340.29999999999995 1115.8Z"/>
<path d="M364.1 1111.3000000000002L372.20000000000005 1119.4L364.1 1127.5L356.0 1119.4Z"/>
<path d="M318.2 1125.7L326.3 1133.8L318.2 1141.8999999999999L310.09999999999997 1133.8Z"/>
<path d="M322.3 1138.3000000000002L330.40000000000003 1146.4L322.3 1154.5L314.2 1146.4Z"/>
<path d="M340.7 1118.5L348.8 1126.6L340.7 1134.6999999999998L332.59999999999997 1126.6Z"/>
<path d="M335.3 1124.8000000000002L343.40000000000003 1132.9L335.3 1141.0L327.2 1132.9Z"/>
<path d="M342.5 1128.4L350.6 1136.5L342.5 1144.6L334.4 1136.5Z"/>
<path d="M337.1 1136.5L345.20000000000005 1144.6L337.1 1152.6999999999998L329.0 1144.6Z"/>
<path d="M333.5 1140.1000000000001L341.6 1148.2L333.5 1156.3L325.4 1148.2Z"/>
<path d="M355.1 1144.6000000000001L363.20000000000005 1152.7L355.1 1160.8L347.0 1152.7Z"/>
<path d="M362.3 1133.8000000000002L370.40000000000003 1141.9L362.3 1150.0L354.2 1141.9Z"/>
<path d="M347.9 1150.0L356.0 1158.1L347.9 1166.1999999999998L339.79999999999995 1158.1Z"/>
<path d="M355.1 1153.6000000000001L363.20000000000005 1161.7L355.1 1169.8L347.0 1161.7Z"/>
<path d="M358.7 1147.3000000000002L366.8 1155.4L358.7 1163.5L350.59999999999997 1155.4Z"/>
<path d="M407.6 1092.7L415.70000000000005 1100.8L407.6 1108.8999999999999L399.5 1100.8Z"/>
<path d="M386.6 1114.4L394.70000000000005 1122.5L386.6 1130.6L378.5 1122.5Z"/>
<path d="M343.2 1128.0L351.3 1136.1L343.2 1144.1999999999998L335.09999999999997 1136.1Z"/>
<path d="M362.1 1134.3000000000002L370.20000000000005 1142.4L362.1 1150.5L354.0 1142.4Z"/>
<path d="M372.6 1137.5L380.70000000000005 1145.6L372.6 1153.6999999999998L364.5 1145.6Z"/>
<path d="M390.4 1136.4L398.5 1144.5L390.4 1152.6L382.29999999999995 1144.5Z"/>
<path d="M354.7 1144.8000000000002L362.8 1152.9L354.7 1161.0L346.59999999999997 1152.9Z"/>
<path d="M348.4 1151.1000000000001L356.5 1159.2L348.4 1167.3L340.29999999999995 1159.2Z"/>
<path d="M356.8 1154.3000000000002L364.90000000000003 1162.4L356.8 1170.5L348.7 1162.4Z"/>
</g>
<g stroke="#000" stroke-width="2.6" fill="none">
<line x1="87.0" y1="756.7" x2="87.0" y2="1163.4"/>
<line x1="79.4" y1="1162.2" x2="621.3000000000001" y2="1162.2"/>
<line x1="86.5" y1="1162.2" x2="86.5" y2="1169.4"/>
<line x1="153.2" y1="1162.2" x2="153.2" y2="1167.4"/>
<line x1="219.9" y1="1162.2" x2="219.9" y2="1169.4"/>
<line x1="286.6" y1="1162.2" x2="286.6" y2="1167.4"/>
<line x1="353.3" y1="1162.2" x2="353.3" y2="1169.4"/>
<line x1="420.0" y1="1162.2" x2="420.0" y2="1167.4"/>
<line x1="486.7" y1="1162.2" x2="486.7" y2="1169.4"/>
<line x1="553.4" y1="1162.2" x2="553.4" y2="1167.4"/>
<line x1="620.1" y1="1162.2" x2="620.1" y2="1169.4"/>
<line x1="81.4" y1="1101.2" x2="87.0" y2="1101.2"/>
<line x1="79.4" y1="1040.2" x2="87.0" y2="1040.2"/>
<line x1="81.4" y1="979.2" x2="87.0" y2="979.2"/>
<line x1="79.4" y1="918.2" x2="87.0" y2="918.2"/>
<line x1="81.4" y1="857.2" x2="87.0" y2="857.2"/>
<line x1="79.4" y1="796.2" x2="87.0" y2="796.2"/>
</g>
<text x="86.5" y="1202.3" font-size="30" text-anchor="middle" font-weight="normal" font-style="normal" >–4</text>
<text x="219.9" y="1202.3" font-size="30" text-anchor="middle" font-weight="normal" font-style="normal" >–2</text>
<text x="353.3" y="1202.3" font-size="30" text-anchor="middle" font-weight="normal" font-style="normal" >0</text>
<text x="486.7" y="1202.3" font-size="30" text-anchor="middle" font-weight="normal" font-style="normal" >2</text>
<text x="620.1" y="1202.3" font-size="30" text-anchor="middle" font-weight="normal" font-style="normal" >4</text>
<text x="68.0" y="1185.0" font-size="30" text-anchor="end" font-weight="normal" font-style="normal" >0</text>
<text x="68.0" y="1049.8" font-size="30" text-anchor="end" font-weight="normal" font-style="normal" >2</text>
<text x="68.0" y="927.8" font-size="30" text-anchor="end" font-weight="normal" font-style="normal" >4</text>
<text x="68.0" y="805.8" font-size="30" text-anchor="end" font-weight="normal" font-style="normal" >6</text>
<text x="353.9" y="1244.2" font-size="29.3" text-anchor="middle">log2 (<tspan font-style="italic">sp1 ppi2/ppi2</tspan>)</text>
<text transform="translate(23.9,952.9) rotate(-90)" font-size="29.3" text-anchor="middle">–log10 (<tspan font-style="italic">p</tspan>-value)</text>
<rect x="793.9" y="551" width="226.30000000000007" height="523.4000000000001" fill="#d9d9d9"/>
<rect x="1097.9" y="551" width="226.0999999999999" height="523.4000000000001" fill="#d9d9d9"/>
<g fill="#808080" stroke="#595959" stroke-width="0.9">
<circle cx="1026.4" cy="1032.9" r="5.5"/>
<circle cx="1036.4" cy="1030.5" r="5.5"/>
<circle cx="1044.1" cy="1030.6" r="5.5"/>
<circle cx="1022.3" cy="1040.3" r="5.5"/>
<circle cx="1031.9" cy="1039.4" r="5.5"/>
<circle cx="1037.9" cy="1038.3" r="5.5"/>
<circle cx="1049.1" cy="1039.3" r="5.5"/>
<circle cx="1020.9" cy="1045.5" r="5.5"/>
<circle cx="1027.5" cy="1046.7" r="5.5"/>
<circle cx="1034.6" cy="1045.1" r="5.5"/>
<circle cx="1044.0" cy="1046.1" r="5.5"/>
<circle cx="1049.7" cy="1044.0" r="5.5"/>
<circle cx="1022.0" cy="1054.0" r="5.5"/>
<circle cx="1029.7" cy="1053.0" r="5.5"/>
<circle cx="1038.3" cy="1051.3" r="5.5"/>
<circle cx="1048.8" cy="1051.7" r="5.5"/>
<circle cx="1054.2" cy="1052.3" r="5.5"/>
<circle cx="1010.0" cy="1060.6" r="5.5"/>
<circle cx="1020.5" cy="1061.2" r="5.5"/>
<circle cx="1028.3" cy="1059.8" r="5.5"/>
<circle cx="1034.2" cy="1060.9" r="5.5"/>
<circle cx="1042.0" cy="1059.1" r="5.5"/>
<circle cx="1050.1" cy="1059.0" r="5.5"/>
<circle cx="1009.1" cy="1065.4" r="5.5"/>
<circle cx="1014.3" cy="1067.6" r="5.5"/>
<circle cx="1023.0" cy="1066.0" r="5.5"/>
<circle cx="1032.8" cy="1065.9" r="5.5"/>
<circle cx="1038.3" cy="1065.2" r="5.5"/>
<circle cx="1046.9" cy="1067.2" r="5.5"/>
<circle cx="1055.0" cy="1067.5" r="5.5"/>
<circle cx="1001.6" cy="1073.2" r="5.5"/>
<circle cx="1010.7" cy="1073.2" r="5.5"/>
<circle cx="1017.5" cy="1071.3" r="5.5"/>
<circle cx="1027.0" cy="1074.3" r="5.5"/>
<circle cx="1034.7" cy="1074.9" r="5.5"/>
<circle cx="1043.8" cy="1072.9" r="5.5"/>
<circle cx="1052.6" cy="1072.2" r="5.5"/>
<circle cx="999.7" cy="1082.0" r="5.5"/>
<circle cx="1008.2" cy="1080.3" r="5.5"/>
<circle cx="1016.9" cy="1079.5" r="5.5"/>
<circle cx="1023.1" cy="1080.9" r="5.5"/>
<circle cx="1031.7" cy="1079.1" r="5.5"/>
<circle cx="1039.1" cy="1081.5" r="5.5"/>
<circle cx="1046.5" cy="1081.0" r="5.5"/>
<circle cx="1053.7" cy="1082.0" r="5.5"/>
<circle cx="995.5" cy="1089.1" r="5.5"/>
<circle cx="1002.1" cy="1085.3" r="5.5"/>
<circle cx="1010.8" cy="1085.3" r="5.5"/>
<circle cx="1019.1" cy="1087.3" r="5.5"/>
<circle cx="1027.3" cy="1085.7" r="5.5"/>
<circle cx="1033.6" cy="1088.4" r="5.5"/>
<circle cx="1043.3" cy="1087.1" r="5.5"/>
<circle cx="1051.4" cy="1087.9" r="5.5"/>
<circle cx="982.2" cy="1092.4" r="5.5"/>
<circle cx="992.9" cy="1092.3" r="5.5"/>
<circle cx="999.8" cy="1095.7" r="5.5"/>
<circle cx="1006.8" cy="1093.6" r="5.5"/>
<circle cx="1015.2" cy="1095.9" r="5.5"/>
<circle cx="1024.2" cy="1095.4" r="5.5"/>
<circle cx="1029.7" cy="1095.0" r="5.5"/>
<circle cx="1039.3" cy="1093.7" r="5.5"/>
<circle cx="1048.8" cy="1095.0" r="5.5"/>
<circle cx="1057.1" cy="1095.0" r="5.5"/>
<circle cx="973.1" cy="1100.7" r="5.5"/>
<circle cx="979.7" cy="1102.1" r="5.5"/>
<circle cx="987.3" cy="1099.6" r="5.5"/>
<circle cx="995.8" cy="1102.5" r="5.5"/>
<circle cx="1005.0" cy="1099.5" r="5.5"/>
<circle cx="1011.0" cy="1099.9" r="5.5"/>
<circle cx="1018.9" cy="1102.8" r="5.5"/>
<circle cx="1027.2" cy="1100.3" r="5.5"/>
<circle cx="1034.6" cy="1100.8" r="5.5"/>
<circle cx="1044.2" cy="1100.4" r="5.5"/>
<circle cx="1050.2" cy="1099.9" r="5.5"/>
<circle cx="974.2" cy="1109.0" r="5.5"/>
<circle cx="981.9" cy="1109.1" r="5.5"/>
<circle cx="990.6" cy="1109.1" r="5.5"/>
<circle cx="999.2" cy="1106.2" r="5.5"/>
<circle cx="1005.9" cy="1109.1" r="5.5"/>
<circle cx="1015.7" cy="1107.9" r="5.5"/>
<circle cx="1022.9" cy="1108.7" r="5.5"/>
<circle cx="1031.4" cy="1106.2" r="5.5"/>
<circle cx="1039.9" cy="1107.2" r="5.5"/>
<circle cx="1048.9" cy="1108.1" r="5.5"/>
<circle cx="1056.6" cy="1106.4" r="5.5"/>
<circle cx="972.3" cy="1115.3" r="5.5"/>
<circle cx="980.9" cy="1116.4" r="5.5"/>
<circle cx="987.7" cy="1115.2" r="5.5"/>
<circle cx="996.6" cy="1113.9" r="5.5"/>
<circle cx="1003.7" cy="1116.0" r="5.5"/>
<circle cx="1011.9" cy="1115.0" r="5.5"/>
<circle cx="1020.9" cy="1116.8" r="5.5"/>
<circle cx="1026.5" cy="1113.2" r="5.5"/>
<circle cx="1036.0" cy="1113.5" r="5.5"/>
<circle cx="1045.4" cy="1114.8" r="5.5"/>
<circle cx="1051.6" cy="1116.1" r="5.5"/>
<circle cx="969.0" cy="1120.4" r="5.5"/>
<circle cx="975.3" cy="1120.5" r="5.5"/>
<circle cx="983.3" cy="1120.3" r="5.5"/>
<circle cx="993.0" cy="1121.2" r="5.5"/>
<circle cx="999.1" cy="1123.4" r="5.5"/>
<circle cx="1008.8" cy="1121.1" r="5.5"/>
<circle cx="1015.5" cy="1122.4" r="5.5"/>
<circle cx="1022.3" cy="1120.3" r="5.5"/>
<circle cx="1032.9" cy="1120.4" r="5.5"/>
<circle cx="1040.3" cy="1122.7" r="5.5"/>
<circle cx="1047.9" cy="1121.2" r="5.5"/>
<circle cx="1056.9" cy="1122.9" r="5.5"/>
<circle cx="980.0" cy="1127.9" r="5.5"/>
<circle cx="986.2" cy="1127.1" r="5.5"/>
<circle cx="996.7" cy="1130.1" r="5.5"/>
<circle cx="1002.9" cy="1127.4" r="5.5"/>
<circle cx="1009.8" cy="1128.4" r="5.5"/>
<circle cx="1018.7" cy="1126.9" r="5.5"/>
<circle cx="1026.7" cy="1130.0" r="5.5"/>
<circle cx="1033.8" cy="1128.3" r="5.5"/>
<circle cx="1043.6" cy="1127.4" r="5.5"/>
<circle cx="1049.6" cy="1127.0" r="5.5"/>
<circle cx="976.9" cy="1136.5" r="5.5"/>
<circle cx="985.1" cy="1134.9" r="5.5"/>
<circle cx="990.5" cy="1137.1" r="5.5"/>
<circle cx="999.9" cy="1137.3" r="5.5"/>
<circle cx="1006.9" cy="1135.3" r="5.5"/>
<circle cx="1016.4" cy="1137.2" r="5.5"/>
<circle cx="1022.2" cy="1134.7" r="5.5"/>
<circle cx="1029.6" cy="1135.9" r="5.5"/>
<circle cx="1041.2" cy="1135.9" r="5.5"/>
<circle cx="1046.1" cy="1136.4" r="5.5"/>
<circle cx="1056.1" cy="1134.1" r="5.5"/>
<circle cx="979.5" cy="1142.0" r="5.5"/>
<circle cx="986.1" cy="1142.4" r="5.5"/>
<circle cx="995.0" cy="1141.5" r="5.5"/>
<circle cx="1004.1" cy="1143.2" r="5.5"/>
<circle cx="1013.3" cy="1144.4" r="5.5"/>
<circle cx="1019.4" cy="1143.4" r="5.5"/>
<circle cx="1027.0" cy="1142.3" r="5.5"/>
<circle cx="1035.8" cy="1144.5" r="5.5"/>
<circle cx="1041.7" cy="1142.4" r="5.5"/>
<circle cx="1050.8" cy="1143.8" r="5.5"/>
<circle cx="992.6" cy="1149.4" r="5.5"/>
<circle cx="999.7" cy="1150.6" r="5.5"/>
<circle cx="1005.6" cy="1148.5" r="5.5"/>
<circle cx="1016.3" cy="1151.4" r="5.5"/>
<circle cx="1025.3" cy="1148.6" r="5.5"/>
<circle cx="1033.4" cy="1148.6" r="5.5"/>
<circle cx="1039.3" cy="1148.1" r="5.5"/>
<circle cx="1047.9" cy="1149.1" r="5.5"/>
<circle cx="1056.2" cy="1151.3" r="5.5"/>
<circle cx="1019.7" cy="1156.2" r="5.5"/>
<circle cx="1029.3" cy="1156.3" r="5.5"/>
<circle cx="1036.2" cy="1157.5" r="5.5"/>
<circle cx="1045.2" cy="1155.1" r="5.5"/>
<circle cx="1050.9" cy="1158.2" r="5.5"/>
<circle cx="1095.4" cy="1011.4" r="5.5"/>
<circle cx="1080.3" cy="1016.7" r="5.5"/>
<circle cx="1091.9" cy="1016.7" r="5.5"/>
<circle cx="1096.6" cy="1016.3" r="5.5"/>
<circle cx="1078.3" cy="1026.2" r="5.5"/>
<circle cx="1086.3" cy="1024.1" r="5.5"/>
<circle cx="1093.3" cy="1024.1" r="5.5"/>
<circle cx="1101.6" cy="1027.1" r="5.5"/>
<circle cx="1074.6" cy="1030.3" r="5.5"/>
<circle cx="1081.2" cy="1031.6" r="5.5"/>
<circle cx="1088.8" cy="1030.2" r="5.5"/>
<circle cx="1096.0" cy="1033.9" r="5.5"/>
<circle cx="1106.8" cy="1033.9" r="5.5"/>
<circle cx="1068.9" cy="1038.5" r="5.5"/>
<circle cx="1078.9" cy="1037.8" r="5.5"/>
<circle cx="1087.4" cy="1039.1" r="5.5"/>
<circle cx="1094.4" cy="1040.3" r="5.5"/>
<circle cx="1102.6" cy="1037.6" r="5.5"/>
<circle cx="1109.0" cy="1037.0" r="5.5"/>
<circle cx="1067.1" cy="1045.2" r="5.5"/>
<circle cx="1075.9" cy="1047.6" r="5.5"/>
<circle cx="1081.8" cy="1044.3" r="5.5"/>
<circle cx="1089.3" cy="1044.6" r="5.5"/>
<circle cx="1097.5" cy="1044.3" r="5.5"/>
<circle cx="1106.9" cy="1047.9" r="5.5"/>
<circle cx="1071.3" cy="1051.0" r="5.5"/>
<circle cx="1079.9" cy="1051.6" r="5.5"/>
<circle cx="1084.0" cy="1054.4" r="5.5"/>
<circle cx="1094.9" cy="1053.6" r="5.5"/>
<circle cx="1103.1" cy="1052.4" r="5.5"/>
<circle cx="1065.8" cy="1061.4" r="5.5"/>
<circle cx="1072.0" cy="1061.1" r="5.5"/>
<circle cx="1081.0" cy="1060.0" r="5.5"/>
<circle cx="1088.5" cy="1058.1" r="5.5"/>
<circle cx="1099.5" cy="1059.8" r="5.5"/>
<circle cx="1068.7" cy="1068.7" r="5.5"/>
<circle cx="1079.9" cy="1065.7" r="5.5"/>
<circle cx="1085.3" cy="1067.6" r="5.5"/>
<circle cx="1094.0" cy="1065.5" r="5.5"/>
<circle cx="1103.9" cy="1067.2" r="5.5"/>
<circle cx="1066.9" cy="1075.3" r="5.5"/>
<circle cx="1073.5" cy="1073.5" r="5.5"/>
<circle cx="1082.5" cy="1073.7" r="5.5"/>
<circle cx="1088.5" cy="1072.8" r="5.5"/>
<circle cx="1096.8" cy="1072.4" r="5.5"/>
<circle cx="1104.4" cy="1073.2" r="5.5"/>
<circle cx="1063.2" cy="1079.7" r="5.5"/>
<circle cx="1068.6" cy="1080.9" r="5.5"/>
<circle cx="1077.9" cy="1080.7" r="5.5"/>
<circle cx="1084.5" cy="1080.7" r="5.5"/>
<circle cx="1095.0" cy="1080.4" r="5.5"/>
<circle cx="1101.0" cy="1082.3" r="5.5"/>
<circle cx="1109.2" cy="1082.6" r="5.5"/>
<circle cx="1067.1" cy="1087.2" r="5.5"/>
<circle cx="1072.3" cy="1089.3" r="5.5"/>
<circle cx="1083.2" cy="1087.9" r="5.5"/>
<circle cx="1090.3" cy="1085.8" r="5.5"/>
<circle cx="1099.9" cy="1086.7" r="5.5"/>
<circle cx="1106.1" cy="1087.5" r="5.5"/>
<circle cx="1113.9" cy="1085.6" r="5.5"/>
<circle cx="1071.4" cy="1095.3" r="5.5"/>
<circle cx="1079.6" cy="1093.8" r="5.5"/>
<circle cx="1084.4" cy="1093.8" r="5.5"/>
<circle cx="1094.4" cy="1095.6" r="5.5"/>
<circle cx="1102.9" cy="1095.0" r="5.5"/>
<circle cx="1110.4" cy="1095.1" r="5.5"/>
<circle cx="1118.3" cy="1092.5" r="5.5"/>
<circle cx="1064.3" cy="1101.8" r="5.5"/>
<circle cx="1075.4" cy="1100.5" r="5.5"/>
<circle cx="1082.7" cy="1101.9" r="5.5"/>
<circle cx="1090.7" cy="1102.9" r="5.5"/>
<circle cx="1098.8" cy="1099.7" r="5.5"/>
<circle cx="1106.5" cy="1100.8" r="5.5"/>
<circle cx="1113.7" cy="1102.1" r="5.5"/>
<circle cx="1120.7" cy="1101.9" r="5.5"/>
<circle cx="1063.8" cy="1106.6" r="5.5"/>
<circle cx="1071.4" cy="1109.1" r="5.5"/>
<circle cx="1077.6" cy="1109.4" r="5.5"/>
<circle cx="1084.3" cy="1106.9" r="5.5"/>
<circle cx="1096.0" cy="1108.8" r="5.5"/>
<circle cx="1100.7" cy="1106.8" r="5.5"/>
<circle cx="1109.8" cy="1108.5" r="5.5"/>
<circle cx="1120.0" cy="1107.0" r="5.5"/>
<circle cx="1066.2" cy="1117.0" r="5.5"/>
<circle cx="1072.5" cy="1116.6" r="5.5"/>
<circle cx="1082.9" cy="1114.3" r="5.5"/>
<circle cx="1088.5" cy="1116.2" r="5.5"/>
<circle cx="1099.4" cy="1114.6" r="5.5"/>
<circle cx="1104.6" cy="1115.4" r="5.5"/>
<circle cx="1114.7" cy="1114.7" r="5.5"/>
<circle cx="1121.6" cy="1113.6" r="5.5"/>
<circle cx="1071.0" cy="1120.6" r="5.5"/>
<circle cx="1076.8" cy="1122.0" r="5.5"/>
<circle cx="1084.8" cy="1121.1" r="5.5"/>
<circle cx="1094.9" cy="1121.1" r="5.5"/>
<circle cx="1102.2" cy="1120.5" r="5.5"/>
<circle cx="1110.1" cy="1122.9" r="5.5"/>
<circle cx="1117.8" cy="1120.9" r="5.5"/>
<circle cx="1124.1" cy="1121.2" r="5.5"/>
<circle cx="1065.6" cy="1127.5" r="5.5"/>
<circle cx="1073.7" cy="1129.1" r="5.5"/>
<circle cx="1080.3" cy="1129.7" r="5.5"/>
<circle cx="1091.8" cy="1129.9" r="5.5"/>
<circle cx="1097.8" cy="1130.4" r="5.5"/>
<circle cx="1107.8" cy="1130.9" r="5.5"/>
<circle cx="1115.8" cy="1130.1" r="5.5"/>
<circle cx="1123.8" cy="1130.1" r="5.5"/>
<circle cx="1069.9" cy="1136.8" r="5.5"/>
<circle cx="1077.1" cy="1135.4" r="5.5"/>
<circle cx="1084.3" cy="1134.2" r="5.5"/>
<circle cx="1093.0" cy="1137.4" r="5.5"/>
<circle cx="1100.2" cy="1134.6" r="5.5"/>
<circle cx="1109.6" cy="1137.9" r="5.5"/>
<circle cx="1116.9" cy="1134.2" r="5.5"/>
<circle cx="1124.2" cy="1135.4" r="5.5"/>
<circle cx="1064.0" cy="1143.6" r="5.5"/>
<circle cx="1072.2" cy="1141.7" r="5.5"/>
<circle cx="1080.3" cy="1142.0" r="5.5"/>
<circle cx="1088.4" cy="1141.6" r="5.5"/>
<circle cx="1096.8" cy="1141.9" r="5.5"/>
<circle cx="1106.5" cy="1142.4" r="5.5"/>
<circle cx="1112.8" cy="1141.0" r="5.5"/>
<circle cx="1123.5" cy="1144.3" r="5.5"/>
<circle cx="1063.8" cy="1150.7" r="5.5"/>
<circle cx="1069.7" cy="1149.2" r="5.5"/>
<circle cx="1076.8" cy="1149.6" r="5.5"/>
<circle cx="1085.7" cy="1151.6" r="5.5"/>
<circle cx="1092.8" cy="1150.7" r="5.5"/>
<circle cx="1102.9" cy="1150.5" r="5.5"/>
<circle cx="1110.5" cy="1148.0" r="5.5"/>
<circle cx="1116.6" cy="1149.9" r="5.5"/>
<circle cx="1067.1" cy="1155.7" r="5.5"/>
<circle cx="1088.3" cy="1157.2" r="5.5"/>
<circle cx="1099.4" cy="1155.1" r="5.5"/>
<circle cx="1116.3" cy="1097.3" r="5.5"/>
<circle cx="1120.6" cy="1104.4" r="5.5"/>
<circle cx="1131.3" cy="1105.1" r="5.5"/>
<circle cx="1126.7" cy="1112.6" r="5.5"/>
<circle cx="1134.7" cy="1110.9" r="5.5"/>
<circle cx="1141.2" cy="1114.3" r="5.5"/>
<circle cx="1151.1" cy="1111.2" r="5.5"/>
<circle cx="1119.0" cy="1119.5" r="5.5"/>
<circle cx="1128.5" cy="1119.3" r="5.5"/>
<circle cx="1136.5" cy="1120.3" r="5.5"/>
<circle cx="1146.7" cy="1119.8" r="5.5"/>
<circle cx="1155.2" cy="1118.6" r="5.5"/>
<circle cx="1126.0" cy="1128.2" r="5.5"/>
<circle cx="1132.5" cy="1126.6" r="5.5"/>
<circle cx="1141.5" cy="1127.2" r="5.5"/>
<circle cx="1150.2" cy="1127.1" r="5.5"/>
<circle cx="1121.1" cy="1135.6" r="5.5"/>
<circle cx="1129.4" cy="1135.2" r="5.5"/>
<circle cx="1138.7" cy="1136.9" r="5.5"/>
<circle cx="1146.7" cy="1134.1" r="5.5"/>
<circle cx="1156.4" cy="1135.3" r="5.5"/>
<circle cx="1126.5" cy="1141.6" r="5.5"/>
<circle cx="1134.2" cy="1143.3" r="5.5"/>
<circle cx="1001.4" cy="634.8" r="5.5"/>
<circle cx="1118.8" cy="635.3" r="5.5"/>
<circle cx="1117.0" cy="683.0" r="5.5"/>
<circle cx="1118.4" cy="697.4" r="5.5"/>
<circle cx="1120.6" cy="700.1" r="5.5"/>
<circle cx="986.4" cy="733.1" r="5.5"/>
<circle cx="1025.7" cy="751.8" r="5.5"/>
<circle cx="1116.1" cy="742.4" r="5.5"/>
<circle cx="1105.8" cy="783.5" r="5.5"/>
<circle cx="1134.1" cy="781.1" r="5.5"/>
<circle cx="988.2" cy="799.5" r="5.5"/>
<circle cx="1108.9" cy="811.1" r="5.5"/>
<circle cx="1026.0" cy="832.0" r="5.5"/>
<circle cx="998.7" cy="847.6" r="5.5"/>
<circle cx="1015.8" cy="852.1" r="5.5"/>
<circle cx="1041.3" cy="848.5" r="5.5"/>
<circle cx="1039.0" cy="862.4" r="5.5"/>
<circle cx="1005.9" cy="876.4" r="5.5"/>
<circle cx="985.9" cy="890.8" r="5.5"/>
<circle cx="1021.9" cy="889.9" r="5.5"/>
<circle cx="1021.9" cy="892.6" r="5.5"/>
<circle cx="1071.6" cy="869.8" r="5.5"/>
<circle cx="1082.8" cy="865.6" r="5.5"/>
<circle cx="1086.7" cy="873.2" r="5.5"/>
<circle cx="1094.5" cy="869.2" r="5.5"/>
<circle cx="1100.8" cy="862.0" r="5.5"/>
<circle cx="1125.4" cy="867.1" r="5.5"/>
<circle cx="1110.1" cy="880.9" r="5.5"/>
<circle cx="1109.4" cy="886.7" r="5.5"/>
<circle cx="1108.0" cy="898.6" r="5.5"/>
<circle cx="1080.6" cy="886.7" r="5.5"/>
<circle cx="1082.4" cy="893.5" r="5.5"/>
<circle cx="1072.8" cy="902.0" r="5.5"/>
<circle cx="1079.7" cy="901.3" r="5.5"/>
<circle cx="1087.3" cy="907.0" r="5.5"/>
<circle cx="1078.2" cy="911.0" r="5.5"/>
<circle cx="1081.5" cy="920.9" r="5.5"/>
<circle cx="1102.6" cy="933.5" r="5.5"/>
<circle cx="1132.8" cy="921.1" r="5.5"/>
<circle cx="1088.5" cy="942.7" r="5.5"/>
<circle cx="1112.1" cy="943.9" r="5.5"/>
<circle cx="1097.5" cy="955.6" r="5.5"/>
<circle cx="1093.9" cy="964.6" r="5.5"/>
<circle cx="1109.8" cy="965.0" r="5.5"/>
<circle cx="1126.5" cy="957.4" r="5.5"/>
<circle cx="1136.8" cy="955.3" r="5.5"/>
<circle cx="1018.8" cy="921.8" r="5.5"/>
<circle cx="1024.2" cy="929.0" r="5.5"/>
<circle cx="1021.5" cy="936.2" r="5.5"/>
<circle cx="997.8" cy="935.8" r="5.5"/>
<circle cx="984.1" cy="943.9" r="5.5"/>
<circle cx="1016.1" cy="944.5" r="5.5"/>
<circle cx="992.4" cy="957.8" r="5.5"/>
<circle cx="1037.2" cy="943.4" r="5.5"/>
<circle cx="1029.3" cy="954.2" r="5.5"/>
<circle cx="1037.7" cy="951.1" r="5.5"/>
<circle cx="1039.9" cy="957.8" r="5.5"/>
<circle cx="1034.7" cy="965.5" r="5.5"/>
<circle cx="1157.4" cy="813.7" r="5.5"/>
<circle cx="1188.9" cy="933.3" r="5.5"/>
<circle cx="992.2" cy="960.9" r="5.5"/>
<circle cx="1035.1" cy="966.3" r="5.5"/>
<circle cx="1030.9" cy="976.2" r="5.5"/>
<circle cx="1038.1" cy="977.1" r="5.5"/>
<circle cx="1033.6" cy="986.1" r="5.5"/>
<circle cx="1030.9" cy="993.3" r="5.5"/>
<circle cx="1038.1" cy="993.3" r="5.5"/>
<circle cx="1026.4" cy="1003.2" r="5.5"/>
<circle cx="1035.4" cy="1002.3" r="5.5"/>
<circle cx="1044.4" cy="1000.5" r="5.5"/>
<circle cx="1048.9" cy="981.2" r="5.5"/>
<circle cx="1093.9" cy="965.4" r="5.5"/>
<circle cx="1110.1" cy="965.4" r="5.5"/>
<circle cx="1105.6" cy="977.1" r="5.5"/>
<circle cx="1080.4" cy="977.1" r="5.5"/>
<circle cx="1084.0" cy="984.3" r="5.5"/>
<circle cx="1078.6" cy="988.8" r="5.5"/>
<circle cx="1069.6" cy="998.2" r="5.5"/>
<circle cx="1085.8" cy="1003.2" r="5.5"/>
<circle cx="1080.4" cy="1009.5" r="5.5"/>
<circle cx="1087.6" cy="1015.8" r="5.5"/>
<circle cx="1103.8" cy="1014.0" r="5.5"/>
<circle cx="1096.6" cy="1014.0" r="5.5"/>
<circle cx="1082.2" cy="1023.9" r="5.5"/>
<circle cx="1076.8" cy="1029.3" r="5.5"/>
<circle cx="1089.4" cy="1039.2" r="5.5"/>
<circle cx="1068.7" cy="1042.8" r="5.5"/>
<circle cx="1076.8" cy="1050.0" r="5.5"/>
<circle cx="1084.0" cy="1044.6" r="5.5"/>
<circle cx="1094.0" cy="1051.8" r="5.5"/>
<circle cx="1102.9" cy="1039.2" r="5.5"/>
<circle cx="1108.3" cy="1039.2" r="5.5"/>
<circle cx="1073.2" cy="1059.0" r="5.5"/>
<circle cx="1084.0" cy="1059.0" r="5.5"/>
<circle cx="1098.4" cy="1064.4" r="5.5"/>
<circle cx="1092.1" cy="1068.0" r="5.5"/>
<circle cx="1119.1" cy="1067.1" r="5.5"/>
<circle cx="1146.2" cy="1030.2" r="5.5"/>
<circle cx="1122.4" cy="1043.9" r="5.5"/>
<circle cx="1008.4" cy="1001.8" r="5.5"/>
<circle cx="983.2" cy="1008.6" r="5.5"/>
<circle cx="992.2" cy="1013.7" r="5.5"/>
<circle cx="949.9" cy="1014.4" r="5.5"/>
<circle cx="1007.5" cy="1035.6" r="5.5"/>
<circle cx="998.5" cy="1041.0" r="5.5"/>
<circle cx="991.3" cy="1044.6" r="5.5"/>
<circle cx="989.5" cy="1050.9" r="5.5"/>
<circle cx="998.5" cy="1059.0" r="5.5"/>
<circle cx="1021.0" cy="1042.8" r="5.5"/>
<circle cx="1030.0" cy="1032.0" r="5.5"/>
<circle cx="1037.2" cy="1027.5" r="5.5"/>
<circle cx="1045.3" cy="1035.6" r="5.5"/>
<circle cx="1049.8" cy="1044.6" r="5.5"/>
<circle cx="1048.0" cy="1053.6" r="5.5"/>
<circle cx="1040.8" cy="1059.0" r="5.5"/>
<circle cx="1017.4" cy="1062.6" r="5.5"/>
<circle cx="1004.8" cy="1069.8" r="5.5"/>
<circle cx="1006.6" cy="1080.6" r="5.5"/>
<circle cx="1017.4" cy="1084.2" r="5.5"/>
<circle cx="1024.6" cy="1075.2" r="5.5"/>
<circle cx="1033.6" cy="1086.0" r="5.5"/>
<circle cx="1048.0" cy="1089.6" r="5.5"/>
<circle cx="1066.0" cy="1071.6" r="5.5"/>
<circle cx="1066.0" cy="1082.4" r="5.5"/>
<circle cx="1076.8" cy="1078.8" r="5.5"/>
<circle cx="1093.0" cy="1077.0" r="5.5"/>
<circle cx="1103.8" cy="1082.4" r="5.5"/>
<circle cx="1112.8" cy="1077.0" r="5.5"/>
<circle cx="1118.2" cy="1089.6" r="5.5"/>
<circle cx="1138.1" cy="1069.8" r="5.5"/>
<circle cx="1145.3" cy="1082.4" r="5.5"/>
<circle cx="1152.5" cy="1077.0" r="5.5"/>
<circle cx="1129.0" cy="1086.9" r="5.5"/>
<circle cx="1151.6" cy="1094.7" r="5.5"/>
<circle cx="946.3" cy="1065.3" r="5.5"/>
<circle cx="941.8" cy="1073.4" r="5.5"/>
<circle cx="980.2" cy="1073.4" r="5.5"/>
<circle cx="957.1" cy="1086.0" r="5.5"/>
<circle cx="949.9" cy="1095.4" r="5.5"/>
<circle cx="970.6" cy="1095.9" r="5.5"/>
<circle cx="979.6" cy="1094.7" r="5.5"/>
<circle cx="992.2" cy="1087.8" r="5.5"/>
<circle cx="994.0" cy="1095.0" r="5.5"/>
<circle cx="979.6" cy="1073.6" r="5.5"/>
<circle cx="957.1" cy="1085.8" r="5.5"/>
<circle cx="949.9" cy="1096.1" r="5.5"/>
<circle cx="970.6" cy="1097.0" r="5.5"/>
<circle cx="979.6" cy="1095.2" r="5.5"/>
<circle cx="992.2" cy="1088.0" r="5.5"/>
<circle cx="967.0" cy="1107.8" r="5.5"/>
<circle cx="972.4" cy="1111.4" r="5.5"/>
<circle cx="971.5" cy="1122.2" r="5.5"/>
<circle cx="985.0" cy="1105.1" r="5.5"/>
<circle cx="988.6" cy="1121.3" r="5.5"/>
<circle cx="954.4" cy="1118.6" r="5.5"/>
<circle cx="958.0" cy="1124.0" r="5.5"/>
<circle cx="950.8" cy="1127.6" r="5.5"/>
<circle cx="945.4" cy="1133.9" r="5.5"/>
<circle cx="940.0" cy="1122.2" r="5.5"/>
<circle cx="974.2" cy="1138.4" r="5.5"/>
<circle cx="983.2" cy="1138.4" r="5.5"/>
<circle cx="994.0" cy="1143.8" r="5.5"/>
<circle cx="1006.6" cy="1151.0" r="5.5"/>
<circle cx="1019.2" cy="1152.8" r="5.5"/>
<circle cx="999.4" cy="1129.4" r="5.5"/>
<circle cx="1012.0" cy="1133.0" r="5.5"/>
<circle cx="1022.8" cy="1129.4" r="5.5"/>
<circle cx="1003.0" cy="1115.0" r="5.5"/>
<circle cx="1015.6" cy="1118.6" r="5.5"/>
<circle cx="1028.2" cy="1116.8" r="5.5"/>
<circle cx="1015.6" cy="1102.4" r="5.5"/>
<circle cx="1030.0" cy="1097.0" r="5.5"/>
<circle cx="1024.6" cy="1084.4" r="5.5"/>
<circle cx="1012.0" cy="1080.8" r="5.5"/>
<circle cx="1003.0" cy="1077.2" r="5.5"/>
<circle cx="1019.2" cy="1073.6" r="5.5"/>
<circle cx="1033.6" cy="1107.8" r="5.5"/>
<circle cx="1033.6" cy="1136.6" r="5.5"/>
<circle cx="1111.0" cy="1152.8" r="5.5"/>
<circle cx="1123.7" cy="1147.4" r="5.5"/>
<circle cx="1132.7" cy="1140.2" r="5.5"/>
<circle cx="1138.1" cy="1142.0" r="5.5"/>
<circle cx="1141.7" cy="1131.2" r="5.5"/>
<circle cx="1154.3" cy="1133.9" r="5.5"/>
<circle cx="1145.3" cy="1111.4" r="5.5"/>
<circle cx="1154.3" cy="1113.2" r="5.5"/>
<circle cx="1138.1" cy="1116.8" r="5.5"/>
<circle cx="1130.9" cy="1120.4" r="5.5"/>
<circle cx="1121.8" cy="1109.6" r="5.5"/>
<circle cx="1114.6" cy="1104.2" r="5.5"/>
<circle cx="1121.8" cy="1097.0" r="5.5"/>
<circle cx="1109.2" cy="1093.4" r="5.5"/>
<circle cx="1112.8" cy="1084.4" r="5.5"/>
<circle cx="1129.0" cy="1087.1" r="5.5"/>
<circle cx="1151.6" cy="1095.2" r="5.5"/>
<circle cx="1145.3" cy="1082.6" r="5.5"/>
<circle cx="1138.1" cy="1073.6" r="5.5"/>
<circle cx="1152.5" cy="1077.2" r="5.5"/>
<circle cx="1105.6" cy="1080.8" r="5.5"/>
<circle cx="1094.8" cy="1082.6" r="5.5"/>
<circle cx="1096.6" cy="1111.4" r="5.5"/>
<circle cx="1109.2" cy="1111.4" r="5.5"/>
<circle cx="1120.0" cy="1129.4" r="5.5"/>
<circle cx="1111.0" cy="1124.0" r="5.5"/>
<circle cx="1066.0" cy="1077.2" r="5.5"/>
<circle cx="1076.8" cy="1080.8" r="5.5"/>
<circle cx="1062.4" cy="1124.0" r="5.5"/>
<circle cx="1069.6" cy="1129.4" r="5.5"/>
<circle cx="1087.6" cy="1129.4" r="5.5"/>
<circle cx="1096.6" cy="1145.6" r="5.5"/>
<circle cx="1102.0" cy="1154.6" r="5.5"/>
<circle cx="1078.6" cy="1154.6" r="5.5"/>
<circle cx="936.2" cy="983.3" r="5.5"/>
<circle cx="982.2" cy="1007.4" r="5.5"/>
<circle cx="997.8" cy="1040.4" r="5.5"/>
<circle cx="943.7" cy="1062.9" r="5.5"/>
<circle cx="940.2" cy="1071.9" r="5.5"/>
<circle cx="936.2" cy="1076.4" r="5.5"/>
<circle cx="956.2" cy="1086.4" r="5.5"/>
<circle cx="852.1" cy="1101.9" r="5.5"/>
<circle cx="866.1" cy="1131.5" r="5.5"/>
<circle cx="889.7" cy="1096.9" r="5.5"/>
<circle cx="899.7" cy="1134.5" r="5.5"/>
<circle cx="906.2" cy="1125.4" r="5.5"/>
<circle cx="906.2" cy="1143.0" r="5.5"/>
<circle cx="921.2" cy="1139.5" r="5.5"/>
<circle cx="936.2" cy="1123.4" r="5.5"/>
<circle cx="952.7" cy="1124.4" r="5.5"/>
<circle cx="966.2" cy="1110.4" r="5.5"/>
<circle cx="953.7" cy="1090.4" r="5.5"/>
<circle cx="886.4" cy="1122.3" r="5.5"/>
<circle cx="911.8" cy="1105.0" r="5.5"/>
<circle cx="912.2" cy="1096.4" r="5.5"/>
<circle cx="1101.3" cy="867.7" r="5.5"/>
<circle cx="1146.0" cy="1030.2" r="5.5"/>
<circle cx="1137.9" cy="1069.8" r="5.5"/>
<circle cx="1139.9" cy="1076.3" r="5.5"/>
<circle cx="1151.3" cy="1078.3" r="5.5"/>
<circle cx="1159.7" cy="1076.3" r="5.5"/>
<circle cx="1165.0" cy="1079.1" r="5.5"/>
<circle cx="1145.2" cy="1083.2" r="5.5"/>
<circle cx="1175.7" cy="1082.4" r="5.5"/>
<circle cx="1176.9" cy="1087.8" r="5.5"/>
<circle cx="1151.3" cy="1095.7" r="5.5"/>
<circle cx="1184.8" cy="1107.9" r="5.5"/>
<circle cx="1202.0" cy="1107.9" r="5.5"/>
<circle cx="1229.7" cy="1112.9" r="5.5"/>
<circle cx="1236.6" cy="1115.2" r="5.5"/>
<circle cx="1233.2" cy="1130.9" r="5.5"/>
<circle cx="1296.3" cy="1136.9" r="5.5"/>
<circle cx="1174.9" cy="1120.2" r="5.5"/>
<circle cx="1180.3" cy="1125.1" r="5.5"/>
<circle cx="1185.6" cy="1122.0" r="5.5"/>
<circle cx="1189.4" cy="1134.2" r="5.5"/>
<circle cx="1197.0" cy="1132.7" r="5.5"/>
<circle cx="1190.1" cy="1145.6" r="5.5"/>
<circle cx="1207.7" cy="1143.0" r="5.5"/>
<circle cx="1154.4" cy="1112.9" r="5.5"/>
<circle cx="1154.4" cy="1132.7" r="5.5"/>
<circle cx="1155.9" cy="1135.0" r="5.5"/>
</g>
<g fill="#9bbb59" stroke="#000" stroke-width="1.25">
<path d="M1114.3 744.1999999999999L1122.3999999999999 752.3L1114.3 760.4L1106.2 752.3Z"/>
<path d="M1097.2 918.1999999999999L1105.3 926.3L1097.2 934.4L1089.1000000000001 926.3Z"/>
<path d="M1133.2 819.6999999999999L1141.3 827.8L1133.2 835.9L1125.1000000000001 827.8Z"/>
<path d="M1155.8 898.1999999999999L1163.8999999999999 906.3L1155.8 914.4L1147.7 906.3Z"/>
<path d="M1098.8 984.3L1106.8999999999999 992.4L1098.8 1000.5L1090.7 992.4Z"/>
<path d="M1072.7 1005.6L1080.8 1013.7L1072.7 1021.8000000000001L1064.6000000000001 1013.7Z"/>
<path d="M1102.0 1020.3000000000001L1110.1 1028.4L1102.0 1036.5L1093.9 1028.4Z"/>
<path d="M1031.3 1045.5L1039.3999999999999 1053.6L1031.3 1061.6999999999998L1023.1999999999999 1053.6Z"/>
<path d="M1046.2 1066.6000000000001L1054.3 1074.7L1046.2 1082.8L1038.1000000000001 1074.7Z"/>
<path d="M1044.4 1076.1000000000001L1052.5 1084.2L1044.4 1092.3L1036.3000000000002 1084.2Z"/>
<path d="M1001.2 1089.6000000000001L1009.3000000000001 1097.7L1001.2 1105.8L993.1 1097.7Z"/>
<path d="M1043.5 1090.5L1051.6 1098.6L1043.5 1106.6999999999998L1035.4 1098.6Z"/>
<path d="M1073.2 1083.3000000000002L1081.3 1091.4L1073.2 1099.5L1065.1000000000001 1091.4Z"/>
<path d="M1085.8 1086.0L1093.8999999999999 1094.1L1085.8 1102.1999999999998L1077.7 1094.1Z"/>
<path d="M1089.4 1088.7L1097.5 1096.8L1089.4 1104.8999999999999L1081.3000000000002 1096.8Z"/>
<path d="M1066.0 1090.5L1074.1 1098.6L1066.0 1106.6999999999998L1057.9 1098.6Z"/>
<path d="M1043.2 1093.8000000000002L1051.3 1101.9L1043.2 1110.0L1035.1000000000001 1101.9Z"/>
<path d="M1046.2 1106.9L1054.3 1115.0L1046.2 1123.1L1038.1000000000001 1115.0Z"/>
<path d="M1044.4 1118.6000000000001L1052.5 1126.7L1044.4 1134.8L1036.3000000000002 1126.7Z"/>
<path d="M1049.8 1125.8000000000002L1057.8999999999999 1133.9L1049.8 1142.0L1041.7 1133.9Z"/>
<path d="M1055.2 1129.4L1063.3 1137.5L1055.2 1145.6L1047.1000000000001 1137.5Z"/>
<path d="M1040.8 1136.6000000000001L1048.8999999999999 1144.7L1040.8 1152.8L1032.7 1144.7Z"/>
<path d="M1033.6 1142.0L1041.6999999999998 1150.1L1033.6 1158.1999999999998L1025.5 1150.1Z"/>
<path d="M1048.9 1142.0L1057.0 1150.1L1048.9 1158.1999999999998L1040.8000000000002 1150.1Z"/>
<path d="M1057.0 1151.0L1065.1 1159.1L1057.0 1167.1999999999998L1048.9 1159.1Z"/>
<path d="M1059.7 1152.8000000000002L1067.8 1160.9L1059.7 1169.0L1051.6000000000001 1160.9Z"/>
<path d="M1066.0 1093.4L1074.1 1101.5L1066.0 1109.6L1057.9 1101.5Z"/>
<path d="M1078.6 1094.3000000000002L1086.6999999999998 1102.4L1078.6 1110.5L1070.5 1102.4Z"/>
<path d="M1089.4 1089.8000000000002L1097.5 1097.9L1089.4 1106.0L1081.3000000000002 1097.9Z"/>
<path d="M1084.0 1085.3000000000002L1092.1 1093.4L1084.0 1101.5L1075.9 1093.4Z"/>
<path d="M1069.6 1105.1000000000001L1077.6999999999998 1113.2L1069.6 1121.3L1061.5 1113.2Z"/>
<path d="M1074.7 1113.2L1082.8 1121.3L1074.7 1129.3999999999999L1066.6000000000001 1121.3Z"/>
<path d="M1092.1 1110.5L1100.1999999999998 1118.6L1092.1 1126.6999999999998L1084.0 1118.6Z"/>
<path d="M1098.4 1118.6000000000001L1106.5 1126.7L1098.4 1134.8L1090.3000000000002 1126.7Z"/>
<path d="M1113.7 1128.9L1121.8 1137.0L1113.7 1145.1L1105.6000000000001 1137.0Z"/>
<path d="M1103.8 1135.7L1111.8999999999999 1143.8L1103.8 1151.8999999999999L1095.7 1143.8Z"/>
<path d="M1093.0 1134.8000000000002L1101.1 1142.9L1093.0 1151.0L1084.9 1142.9Z"/>
<path d="M1078.6 1131.2L1086.6999999999998 1139.3L1078.6 1147.3999999999999L1070.5 1139.3Z"/>
<path d="M1084.0 1137.5L1092.1 1145.6L1084.0 1153.6999999999998L1075.9 1145.6Z"/>
<path d="M1067.8 1135.7L1075.8999999999999 1143.8L1067.8 1151.8999999999999L1059.7 1143.8Z"/>
<path d="M1060.6 1141.1000000000001L1068.6999999999998 1149.2L1060.6 1157.3L1052.5 1149.2Z"/>
<path d="M1069.6 1147.4L1077.6999999999998 1155.5L1069.6 1163.6L1061.5 1155.5Z"/>
</g>
<g stroke="#000" stroke-width="2.6" fill="none">
<line x1="792.8" y1="557.9" x2="792.8" y2="1163.3"/>
<line x1="785.1999999999999" y1="1162.1" x2="1326.0" y2="1162.1"/>
<line x1="792.8" y1="1162.1" x2="792.8" y2="1169.3"/>
<line x1="859.3" y1="1162.1" x2="859.3" y2="1167.3"/>
<line x1="925.8" y1="1162.1" x2="925.8" y2="1169.3"/>
<line x1="992.3" y1="1162.1" x2="992.3" y2="1167.3"/>
<line x1="1058.8" y1="1162.1" x2="1058.8" y2="1169.3"/>
<line x1="1125.3" y1="1162.1" x2="1125.3" y2="1167.3"/>
<line x1="1191.8" y1="1162.1" x2="1191.8" y2="1169.3"/>
<line x1="1258.3" y1="1162.1" x2="1258.3" y2="1167.3"/>
<line x1="1324.8" y1="1162.1" x2="1324.8" y2="1169.3"/>
<line x1="787.1999999999999" y1="1101.0" x2="792.8" y2="1101.0"/>
<line x1="785.1999999999999" y1="1039.9" x2="792.8" y2="1039.9"/>
<line x1="787.1999999999999" y1="978.8" x2="792.8" y2="978.8"/>
<line x1="785.1999999999999" y1="917.7" x2="792.8" y2="917.7"/>
<line x1="787.1999999999999" y1="856.6" x2="792.8" y2="856.6"/>
<line x1="785.1999999999999" y1="795.5" x2="792.8" y2="795.5"/>
<line x1="787.1999999999999" y1="734.4" x2="792.8" y2="734.4"/>
<line x1="785.1999999999999" y1="673.3" x2="792.8" y2="673.3"/>
<line x1="787.1999999999999" y1="612.2" x2="792.8" y2="612.2"/>
</g>
<text x="792.8" y="1202.6" font-size="30" text-anchor="middle" font-weight="normal" font-style="normal" >–4</text>
<text x="925.8" y="1202.6" font-size="30" text-anchor="middle" font-weight="normal" font-style="normal" >–2</text>
<text x="1058.8" y="1202.6" font-size="30" text-anchor="middle" font-weight="normal" font-style="normal" >0</text>
<text x="1191.8" y="1202.6" font-size="30" text-anchor="middle" font-weight="normal" font-style="normal" >2</text>
<text x="1324.8" y="1202.6" font-size="30" text-anchor="middle" font-weight="normal" font-style="normal" >4</text>
<text x="773.8" y="1171.7" font-size="30" text-anchor="end" font-weight="normal" font-style="normal" >0</text>
<text x="773.8" y="1049.5" font-size="30" text-anchor="end" font-weight="normal" font-style="normal" >2</text>
<text x="773.8" y="927.3" font-size="30" text-anchor="end" font-weight="normal" font-style="normal" >4</text>
<text x="773.8" y="805.1" font-size="30" text-anchor="end" font-weight="normal" font-style="normal" >6</text>
<text x="773.8" y="682.9" font-size="30" text-anchor="end" font-weight="normal" font-style="normal" >8</text>
<text x="1059.4" y="1243.4" font-size="29.3" text-anchor="middle">log2 (<tspan font-style="italic">rpn8a ppi2/ppi2</tspan>)</text>
<text transform="translate(731.5,841.1) rotate(-90)" font-size="29.3" text-anchor="middle">–log10 (<tspan font-style="italic">p</tspan>-value)</text>
<text x="-1.2" y="22.5" font-size="41" text-anchor="start" font-weight="bold" font-style="normal" >a</text>
<text x="-1.4" y="559.6" font-size="41" text-anchor="start" font-weight="bold" font-style="normal" >b</text>
<text x="-0.8" y="1312.1" font-size="41" text-anchor="start" font-weight="bold" font-style="normal" >c</text>
<circle cx="140.1" cy="82.0" r="9.7" fill="#808080" stroke="#595959" stroke-width="1"/>
<path d="M140.1 113.2L149.4 122.5L140.1 131.8L130.79999999999998 122.5Z" fill="#9bbb59" stroke="#000" stroke-width="1.3"/>
<text x="160.1" y="91.3" font-size="25" text-anchor="start" font-weight="normal" font-style="normal" >All proteins</text>
<text x="159.4" y="130.6" font-size="25" text-anchor="start" font-weight="normal" font-style="normal" >Photosynthetic proteins</text>
<circle cx="140.1" cy="670.3" r="9.7" fill="#808080" stroke="#595959" stroke-width="1"/>
<path d="M140.1 701.7L149.4 711.0L140.1 720.3L130.79999999999998 711.0Z" fill="#9bbb59" stroke="#000" stroke-width="1.3"/>
<text x="161.2" y="678.8" font-size="25" text-anchor="start" font-weight="normal" font-style="normal" >All proteins</text>
<text x="161.0" y="717.5" font-size="25" text-anchor="start" font-weight="normal" font-style="normal" >Photosynthetic proteins</text>
<rect x="1114.7" y="292.6" width="14.6" height="13.7" fill="none" stroke="#000" stroke-width="2.2"/>
<line x1="1130.4" y1="291.5" x2="1149.5" y2="282.8" stroke="#000" stroke-width="2.0"/>
<text x="1183.5" y="292.7" font-size="30" text-anchor="start" font-weight="normal" font-style="normal" >RbcS</text>
<rect x="421.1" y="934.1" width="15.6" height="14.1" fill="none" stroke="#000" stroke-width="2.2"/>
<line x1="440.4" y1="933.3" x2="457.8" y2="927.2" stroke="#000" stroke-width="2.0"/>
<text x="445.6" y="908.3" font-size="30" text-anchor="start" font-weight="normal" font-style="normal" >Toc75</text>
<rect x="1105.8" y="746.3" width="19.1" height="13.9" fill="none" stroke="#000" stroke-width="2.2"/>
<line x1="1126" y1="745.2" x2="1146.7" y2="729.3" stroke="#000" stroke-width="2.0"/>
<text x="1146.2" y="728.7" font-size="30" text-anchor="start" font-weight="normal" font-style="normal" >Lhcb5</text>
<rect x="1123.8" y="820.4" width="18.8" height="14.0" fill="none" stroke="#000" stroke-width="2.2"/>
<line x1="1144" y1="819" x2="1164.6" y2="803.7" stroke="#000" stroke-width="2.0"/>
<text x="1166.5" y="800.7" font-size="30" text-anchor="start" font-weight="normal" font-style="normal" >Lhcb1.2</text>
<rect x="1144.9" y="899.9" width="18.8" height="14.0" fill="none" stroke="#000" stroke-width="2.2"/>
<line x1="1164.8" y1="898.8" x2="1185.8" y2="883.3" stroke="#000" stroke-width="2.0"/>
<text x="1186.5" y="883.3" font-size="30" text-anchor="start" font-weight="normal" font-style="normal" >RbcS</text>
<rect x="1091.6" y="1021.4" width="18.8" height="12.8" fill="none" stroke="#000" stroke-width="2.2"/>
<line x1="1111.5" y1="1020.3" x2="1131.8" y2="1003.8" stroke="#000" stroke-width="2.0"/>
<text x="1134.7" y="1006.8" font-size="30" text-anchor="start" font-weight="normal" font-style="normal" >RbcL</text>
<line x1="108.3" y1="1299.8" x2="108.3" y2="1750.3" stroke="#000" stroke-width="4.6"/>
<line x1="87" y1="1569.7" x2="108" y2="1569.7" stroke="#000" stroke-width="3.4"/>
<line x1="87" y1="1391.4" x2="108" y2="1391.4" stroke="#000" stroke-width="3.4"/>
<text x="75.5" y="1758.5" font-size="30" text-anchor="end" font-weight="normal" font-style="normal" >0</text>
<text x="75.5" y="1579.5" font-size="30" text-anchor="end" font-weight="normal" font-style="normal" >1</text>
<text x="75.5" y="1401.3" font-size="30" text-anchor="end" font-weight="normal" font-style="normal" >2</text>
<text transform="translate(35.1,1532.5) rotate(-90)" font-size="29.4" text-anchor="middle">Rel. expression</text>
<rect x="124.25" y="1570.90" width="27.90" height="178.25" fill="#808080" stroke="#000" stroke-width="2.3"/>
<rect x="154.45" y="1436.25" width="26.85" height="312.90" fill="#d3d3d3" stroke="#000" stroke-width="2.3"/>
<rect x="183.60" y="1465.85" width="27.35" height="283.30" fill="#fff" stroke="#000" stroke-width="2.3"/>
<line x1="167.9" y1="1436.1" x2="167.9" y2="1400.6" stroke="#000" stroke-width="2.4"/>
<line x1="160.4" y1="1400.6" x2="175.4" y2="1400.6" stroke="#000" stroke-width="2.3"/>
<line x1="197.3" y1="1465.7" x2="197.3" y2="1387.7" stroke="#000" stroke-width="2.4"/>
<line x1="189.8" y1="1387.7" x2="204.8" y2="1387.7" stroke="#000" stroke-width="2.3"/>
<circle cx="158.1" cy="1415.2" r="5.1" fill="none" stroke="#000" stroke-width="2.2"/>
<circle cx="177.8" cy="1415.2" r="5.1" fill="none" stroke="#000" stroke-width="2.2"/>
<circle cx="167.9" cy="1471.7" r="5.1" fill="none" stroke="#000" stroke-width="2.2"/>
<circle cx="197.7" cy="1376.0" r="5.1" fill="none" stroke="#000" stroke-width="2.2"/>
<circle cx="188.0" cy="1507.6" r="5.1" fill="none" stroke="#000" stroke-width="2.2"/>
<circle cx="207.5" cy="1507.6" r="5.1" fill="none" stroke="#000" stroke-width="2.2"/>
<text x="167.9" y="1785.2" font-size="29.3" text-anchor="middle" font-weight="normal" font-style="italic" >psaJ</text>
<rect x="258.05" y="1570.90" width="27.90" height="178.25" fill="#808080" stroke="#000" stroke-width="2.3"/>
<rect x="288.25" y="1476.75" width="26.85" height="272.40" fill="#d3d3d3" stroke="#000" stroke-width="2.3"/>
<rect x="317.40" y="1519.15" width="27.35" height="230.00" fill="#fff" stroke="#000" stroke-width="2.3"/>
<line x1="301.7" y1="1476.6" x2="301.7" y2="1446.4" stroke="#000" stroke-width="2.4"/>
<line x1="294.2" y1="1446.4" x2="309.2" y2="1446.4" stroke="#000" stroke-width="2.3"/>
<line x1="331.1" y1="1519.0" x2="331.1" y2="1427.3" stroke="#000" stroke-width="2.4"/>
<line x1="323.6" y1="1427.3" x2="338.6" y2="1427.3" stroke="#000" stroke-width="2.3"/>
<circle cx="301.7" cy="1444.8" r="5.1" fill="none" stroke="#000" stroke-width="2.2"/>
<circle cx="301.7" cy="1477.0" r="5.1" fill="none" stroke="#000" stroke-width="2.2"/>
<circle cx="301.7" cy="1502.4" r="5.1" fill="none" stroke="#000" stroke-width="2.2"/>
<circle cx="331.1" cy="1456.0" r="5.1" fill="none" stroke="#000" stroke-width="2.2"/>
<circle cx="331.1" cy="1475.6" r="5.1" fill="none" stroke="#000" stroke-width="2.2"/>
<circle cx="331.1" cy="1619.4" r="5.1" fill="none" stroke="#000" stroke-width="2.2"/>
<text x="301.7" y="1785.2" font-size="29.3" text-anchor="middle" font-weight="normal" font-style="italic" >psbA</text>
<rect x="391.85" y="1570.90" width="27.90" height="178.25" fill="#808080" stroke="#000" stroke-width="2.3"/>
<rect x="422.05" y="1445.35" width="26.85" height="303.80" fill="#d3d3d3" stroke="#000" stroke-width="2.3"/>
<rect x="451.20" y="1606.15" width="27.35" height="143.00" fill="#fff" stroke="#000" stroke-width="2.3"/>
<line x1="435.5" y1="1445.2" x2="435.5" y2="1340.5" stroke="#000" stroke-width="2.4"/>
<line x1="428.0" y1="1340.5" x2="443.0" y2="1340.5" stroke="#000" stroke-width="2.3"/>
<line x1="464.9" y1="1606.0" x2="464.9" y2="1569.7" stroke="#000" stroke-width="2.4"/>
<line x1="457.4" y1="1569.7" x2="472.4" y2="1569.7" stroke="#000" stroke-width="2.3"/>
<circle cx="435.5" cy="1357.6" r="5.1" fill="none" stroke="#000" stroke-width="2.2"/>
<circle cx="435.5" cy="1415.2" r="5.1" fill="none" stroke="#000" stroke-width="2.2"/>
<circle cx="435.5" cy="1557.4" r="5.1" fill="none" stroke="#000" stroke-width="2.2"/>
<circle cx="464.9" cy="1569.7" r="5.1" fill="none" stroke="#000" stroke-width="2.2"/>
<circle cx="464.9" cy="1590.5" r="5.1" fill="none" stroke="#000" stroke-width="2.2"/>
<circle cx="464.9" cy="1641.5" r="5.1" fill="none" stroke="#000" stroke-width="2.2"/>
<text x="435.5" y="1785.2" font-size="29.3" text-anchor="middle" font-weight="normal" font-style="italic" >psbN</text>
<rect x="525.65" y="1570.90" width="27.90" height="178.25" fill="#808080" stroke="#000" stroke-width="2.3"/>
<rect x="555.85" y="1524.55" width="26.85" height="224.60" fill="#d3d3d3" stroke="#000" stroke-width="2.3"/>
<rect x="585.00" y="1614.15" width="27.35" height="135.00" fill="#fff" stroke="#000" stroke-width="2.3"/>
<line x1="569.3" y1="1524.4" x2="569.3" y2="1444.4" stroke="#000" stroke-width="2.4"/>
<line x1="561.8" y1="1444.4" x2="576.8" y2="1444.4" stroke="#000" stroke-width="2.3"/>
<line x1="591.2" y1="1612.0" x2="606.2" y2="1612.0" stroke="#000" stroke-width="2.3"/>
<circle cx="569.3" cy="1432.7" r="5.1" fill="none" stroke="#000" stroke-width="2.2"/>
<circle cx="559.5" cy="1568.1" r="5.1" fill="none" stroke="#000" stroke-width="2.2"/>
<circle cx="579.5" cy="1566.7" r="5.1" fill="none" stroke="#000" stroke-width="2.2"/>
<circle cx="589.2" cy="1615.5" r="5.1" fill="none" stroke="#000" stroke-width="2.2"/>
<circle cx="598.7" cy="1613.0" r="5.1" fill="none" stroke="#000" stroke-width="2.2"/>
<circle cx="608.2" cy="1613.0" r="5.1" fill="none" stroke="#000" stroke-width="2.2"/>
<text x="569.3" y="1785.2" font-size="29.3" text-anchor="middle" font-weight="normal" font-style="italic" >ndhF</text>
<rect x="659.45" y="1570.90" width="27.90" height="178.25" fill="#808080" stroke="#000" stroke-width="2.3"/>
<rect x="689.65" y="1478.65" width="26.85" height="270.50" fill="#d3d3d3" stroke="#000" stroke-width="2.3"/>
<rect x="718.80" y="1632.95" width="27.35" height="116.20" fill="#fff" stroke="#000" stroke-width="2.3"/>
<line x1="703.1" y1="1478.5" x2="703.1" y2="1442.0" stroke="#000" stroke-width="2.4"/>
<line x1="695.6" y1="1442.0" x2="710.6" y2="1442.0" stroke="#000" stroke-width="2.3"/>
<line x1="732.5" y1="1632.8" x2="732.5" y2="1626.0" stroke="#000" stroke-width="2.4"/>
<line x1="725.0" y1="1626.0" x2="740.0" y2="1626.0" stroke="#000" stroke-width="2.3"/>
<circle cx="703.1" cy="1437.9" r="5.1" fill="none" stroke="#000" stroke-width="2.2"/>
<circle cx="703.1" cy="1484.3" r="5.1" fill="none" stroke="#000" stroke-width="2.2"/>
<circle cx="703.1" cy="1507.8" r="5.1" fill="none" stroke="#000" stroke-width="2.2"/>
<circle cx="722.7" cy="1626.9" r="5.1" fill="none" stroke="#000" stroke-width="2.2"/>
<circle cx="742.6" cy="1626.9" r="5.1" fill="none" stroke="#000" stroke-width="2.2"/>
<circle cx="732.5" cy="1639.6" r="5.1" fill="none" stroke="#000" stroke-width="2.2"/>
<text x="703.1" y="1785.2" font-size="29.3" text-anchor="middle" font-weight="normal" font-style="italic" >rbcL</text>
<rect x="793.25" y="1570.90" width="27.90" height="178.25" fill="#808080" stroke="#000" stroke-width="2.3"/>
<rect x="823.45" y="1532.35" width="26.85" height="216.80" fill="#d3d3d3" stroke="#000" stroke-width="2.3"/>
<rect x="852.60" y="1630.35" width="27.35" height="118.80" fill="#fff" stroke="#000" stroke-width="2.3"/>
<line x1="836.9" y1="1532.2" x2="836.9" y2="1484.3" stroke="#000" stroke-width="2.4"/>
<line x1="829.4" y1="1484.3" x2="844.4" y2="1484.3" stroke="#000" stroke-width="2.3"/>
<line x1="866.3" y1="1630.2" x2="866.3" y2="1626.0" stroke="#000" stroke-width="2.4"/>
<line x1="858.8" y1="1626.0" x2="873.8" y2="1626.0" stroke="#000" stroke-width="2.3"/>
<circle cx="836.9" cy="1484.0" r="5.1" fill="none" stroke="#000" stroke-width="2.2"/>
<circle cx="836.9" cy="1529.2" r="5.1" fill="none" stroke="#000" stroke-width="2.2"/>
<circle cx="836.9" cy="1578.9" r="5.1" fill="none" stroke="#000" stroke-width="2.2"/>
<circle cx="856.1" cy="1630.6" r="5.1" fill="none" stroke="#000" stroke-width="2.2"/>
<circle cx="866.3" cy="1624.4" r="5.1" fill="none" stroke="#000" stroke-width="2.2"/>
<circle cx="876.0" cy="1626.9" r="5.1" fill="none" stroke="#000" stroke-width="2.2"/>
<text x="836.9" y="1785.2" font-size="29.3" text-anchor="middle" font-weight="normal" font-style="italic" >RbcS</text>
<rect x="927.05" y="1570.90" width="27.90" height="178.25" fill="#808080" stroke="#000" stroke-width="2.3"/>
<rect x="957.25" y="1544.15" width="26.85" height="205.00" fill="#d3d3d3" stroke="#000" stroke-width="2.3"/>
<rect x="986.40" y="1568.95" width="27.35" height="180.20" fill="#fff" stroke="#000" stroke-width="2.3"/>
<line x1="970.7" y1="1544.0" x2="970.7" y2="1516.7" stroke="#000" stroke-width="2.4"/>
<line x1="963.2" y1="1516.7" x2="978.2" y2="1516.7" stroke="#000" stroke-width="2.3"/>
<line x1="1000.1" y1="1568.8" x2="1000.1" y2="1553.7" stroke="#000" stroke-width="2.4"/>
<line x1="992.6" y1="1553.7" x2="1007.6" y2="1553.7" stroke="#000" stroke-width="2.3"/>
<circle cx="970.7" cy="1512.2" r="5.1" fill="none" stroke="#000" stroke-width="2.2"/>
<circle cx="960.9" cy="1557.0" r="5.1" fill="none" stroke="#000" stroke-width="2.2"/>
<circle cx="980.4" cy="1555.7" r="5.1" fill="none" stroke="#000" stroke-width="2.2"/>
<circle cx="1000.1" cy="1551.8" r="5.1" fill="none" stroke="#000" stroke-width="2.2"/>
<circle cx="990.4" cy="1575.6" r="5.1" fill="none" stroke="#000" stroke-width="2.2"/>
<circle cx="1009.9" cy="1573.6" r="5.1" fill="none" stroke="#000" stroke-width="2.2"/>
<text x="970.7" y="1785.2" font-size="29.3" text-anchor="middle" font-weight="normal" font-style="italic" >Lhcb4</text>
<rect x="1060.85" y="1570.90" width="27.90" height="178.25" fill="#808080" stroke="#000" stroke-width="2.3"/>
<rect x="1091.05" y="1551.95" width="26.85" height="197.20" fill="#d3d3d3" stroke="#000" stroke-width="2.3"/>
<rect x="1120.20" y="1587.45" width="27.35" height="161.70" fill="#fff" stroke="#000" stroke-width="2.3"/>
<line x1="1104.5" y1="1551.8" x2="1104.5" y2="1538.1" stroke="#000" stroke-width="2.4"/>
<line x1="1097.0" y1="1538.1" x2="1112.0" y2="1538.1" stroke="#000" stroke-width="2.3"/>
<line x1="1133.9" y1="1587.3" x2="1133.9" y2="1575.2" stroke="#000" stroke-width="2.4"/>
<line x1="1126.4" y1="1575.2" x2="1141.4" y2="1575.2" stroke="#000" stroke-width="2.3"/>
<circle cx="1104.5" cy="1536.6" r="5.1" fill="none" stroke="#000" stroke-width="2.2"/>
<circle cx="1104.5" cy="1549.2" r="5.1" fill="none" stroke="#000" stroke-width="2.2"/>
<circle cx="1104.5" cy="1561.0" r="5.1" fill="none" stroke="#000" stroke-width="2.2"/>
<circle cx="1133.9" cy="1572.6" r="5.1" fill="none" stroke="#000" stroke-width="2.2"/>
<circle cx="1124.6" cy="1593.5" r="5.1" fill="none" stroke="#000" stroke-width="2.2"/>
<circle cx="1144.1" cy="1589.6" r="5.1" fill="none" stroke="#000" stroke-width="2.2"/>
<text x="1104.5" y="1785.2" font-size="29.3" text-anchor="middle" font-weight="normal" font-style="italic" >Lhcb5</text>
<rect x="1194.65" y="1570.90" width="27.90" height="178.25" fill="#808080" stroke="#000" stroke-width="2.3"/>
<rect x="1224.85" y="1568.95" width="26.85" height="180.20" fill="#d3d3d3" stroke="#000" stroke-width="2.3"/>
<rect x="1254.00" y="1610.35" width="27.35" height="138.80" fill="#fff" stroke="#000" stroke-width="2.3"/>
<line x1="1238.3" y1="1568.8" x2="1238.3" y2="1508.5" stroke="#000" stroke-width="2.4"/>
<line x1="1230.8" y1="1508.5" x2="1245.8" y2="1508.5" stroke="#000" stroke-width="2.3"/>
<line x1="1267.7" y1="1610.2" x2="1267.7" y2="1573.4" stroke="#000" stroke-width="2.4"/>
<line x1="1260.2" y1="1573.4" x2="1275.2" y2="1573.4" stroke="#000" stroke-width="2.3"/>
<circle cx="1228.4" cy="1528.9" r="5.1" fill="none" stroke="#000" stroke-width="2.2"/>
<circle cx="1248.4" cy="1538.1" r="5.1" fill="none" stroke="#000" stroke-width="2.2"/>
<circle cx="1238.3" cy="1634.0" r="5.1" fill="none" stroke="#000" stroke-width="2.2"/>
<circle cx="1267.7" cy="1567.8" r="5.1" fill="none" stroke="#000" stroke-width="2.2"/>
<circle cx="1258.1" cy="1630.5" r="5.1" fill="none" stroke="#000" stroke-width="2.2"/>
<circle cx="1277.8" cy="1624.9" r="5.1" fill="none" stroke="#000" stroke-width="2.2"/>
<text x="1238.3" y="1785.2" font-size="29.3" text-anchor="middle" font-weight="normal" font-style="italic" >ZDS</text>
<line x1="87" y1="1748.1" x2="1302.8" y2="1748.1" stroke="#000" stroke-width="4.6"/>
<text x="701.4" y="1420.5" font-size="30" text-anchor="middle" font-weight="normal" font-style="normal" >*</text>
<rect x="799.5" y="1374.1" width="18.7" height="18" fill="#404040" stroke="#000" stroke-width="1.4"/>
<text x="829.0" y="1393.5" font-size="25.3" text-anchor="start" font-weight="normal" font-style="normal" >Control</text>
<rect x="951.1" y="1374.1" width="18.7" height="18" fill="#bfbfbf" stroke="#000" stroke-width="1.4"/>
<text x="984.5" y="1393.5" font-size="25.3" text-anchor="start" font-weight="normal" font-style="italic" >rpn8a</text>
<rect x="1096.7" y="1374.1" width="18.7" height="18" fill="#fff" stroke="#000" stroke-width="1.4"/>
<text x="1128.7" y="1393.5" font-size="25.3" text-anchor="start" font-weight="normal" font-style="italic" >rpn8a ppi2</text>
</svg>
</body></html>
